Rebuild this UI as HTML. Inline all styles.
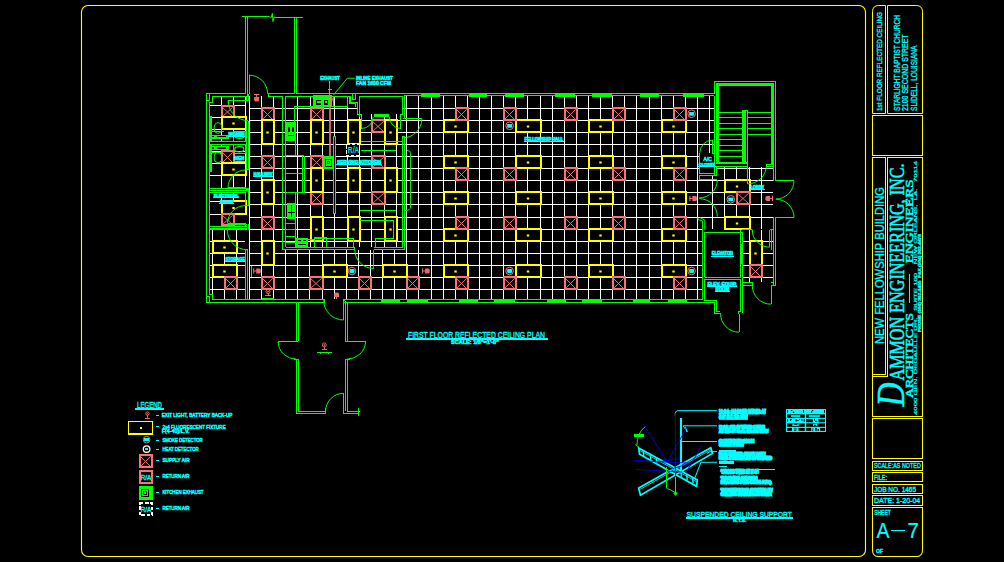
<!DOCTYPE html><html><head><meta charset="utf-8"><title>First Floor Reflected Ceiling Plan</title><style>html,body{margin:0;padding:0;background:#000;overflow:hidden}svg{display:block}text{white-space:pre}</style></head><body><svg width="1004" height="562" viewBox="0 0 1004 562"><rect width="1004" height="562" fill="#000"/>
<rect x="81.5" y="5.5" width="784" height="551" rx="6.5" fill="none" stroke="#ffff00" stroke-width="1.1"/>
<path d="M872.5,113.5 V11.8 Q872.5,5.5 878.8,5.5 H885.5 V113.5 Z" fill="none" stroke="#ffff00" stroke-width="1" />
<path d="M887.5,113.5 V5.5 H916.2 Q922.5,5.5 922.5,11.8 V113.5 Z" fill="none" stroke="#ffff00" stroke-width="1" />
<rect x="872.50" y="115.50" width="50.00" height="40.00" fill="none" stroke="#ffff00" stroke-width="1"  shape-rendering="crispEdges"/>
<polyline points="885.50,157.50 872.50,157.50 872.50,416.50 922.50,416.50 922.50,157.50 887.50,157.50 887.50,376.50 872.50,376.50" fill="none" stroke="#ffff00" stroke-width="1"  shape-rendering="crispEdges"/>
<polyline points="885.50,157.50 885.50,374.50 872.50,374.50" fill="none" stroke="#ffff00" stroke-width="1"  shape-rendering="crispEdges"/>
<rect x="872.50" y="418.50" width="50.00" height="40.00" fill="none" stroke="#ffff00" stroke-width="1"  shape-rendering="crispEdges"/>
<rect x="872.50" y="461.50" width="50.00" height="9.00" fill="none" stroke="#ffff00" stroke-width="1"  shape-rendering="crispEdges"/>
<rect x="872.50" y="472.50" width="50.00" height="9.00" fill="none" stroke="#ffff00" stroke-width="1"  shape-rendering="crispEdges"/>
<rect x="872.50" y="484.50" width="50.00" height="9.00" fill="none" stroke="#ffff00" stroke-width="1"  shape-rendering="crispEdges"/>
<rect x="872.50" y="495.50" width="50.00" height="10.00" fill="none" stroke="#ffff00" stroke-width="1"  shape-rendering="crispEdges"/>
<path d="M872.5,507.5 H922.5 V550.2 Q922.5,556.5 916.2,556.5 H878.8 Q872.5,556.5 872.5,550.2 Z" fill="none" stroke="#ffff00" stroke-width="1.05" />
<text transform="translate(881.60,111.00) rotate(-90)" font-family="Liberation Sans, sans-serif" font-size="6.8" font-weight="normal" fill="#00ffff" stroke="#00ffff" stroke-width="0.3" textLength="99.00" lengthAdjust="spacingAndGlyphs" >1st FLOOR REFLECTED CEILING</text>
<text transform="translate(900.00,111.00) rotate(-90)" font-family="Liberation Sans, sans-serif" font-size="9.2" font-weight="normal" fill="#00ffff" stroke="#00ffff" stroke-width="0.3" textLength="96.00" lengthAdjust="spacingAndGlyphs" >STARLIGHT BAPTIST CHURCH</text>
<text transform="translate(907.90,111.00) rotate(-90)" font-family="Liberation Sans, sans-serif" font-size="8.2" font-weight="normal" fill="#00ffff" stroke="#00ffff" stroke-width="0.3" textLength="76.60" lengthAdjust="spacingAndGlyphs" >2100 SECOND STREET</text>
<text transform="translate(916.80,111.00) rotate(-90)" font-family="Liberation Sans, sans-serif" font-size="8.2" font-weight="normal" fill="#00ffff" stroke="#00ffff" stroke-width="0.3" textLength="65.50" lengthAdjust="spacingAndGlyphs" >SLIDELL, LOUISIANA</text>
<text transform="translate(883.50,344.00) rotate(-90)" font-family="Liberation Sans, sans-serif" font-size="13.4" font-weight="normal" fill="#00ffff" stroke="#00ffff" stroke-width="0.3" textLength="157.00" lengthAdjust="spacingAndGlyphs" >NEW FELLOWSHIP BUILDING</text>
<text transform="translate(904.20,406.50) rotate(-90)" font-family="Liberation Serif, sans-serif" font-size="40" font-weight="normal" fill="#00ffff" stroke="#00ffff" stroke-width="0.5" textLength="24.00" lengthAdjust="spacingAndGlyphs" font-style="italic">D</text>
<text transform="translate(904.20,380.50) rotate(-90)" font-family="Liberation Serif, sans-serif" font-size="20" font-weight="normal" fill="#00ffff" stroke="#00ffff" stroke-width="0.55" textLength="217.00" lengthAdjust="spacingAndGlyphs" >AMMON ENGINEERING, INC.</text>
<text transform="translate(912.60,398.00) rotate(-90)" font-family="Liberation Serif, sans-serif" font-size="9.8" font-weight="normal" fill="#00ffff" stroke="#00ffff" stroke-width="0.45" textLength="85.00" lengthAdjust="spacingAndGlyphs" >ARCHITECTS</text>
<text transform="translate(912.60,263.30) rotate(-90)" font-family="Liberation Serif, sans-serif" font-size="9.8" font-weight="normal" fill="#00ffff" stroke="#00ffff" stroke-width="0.45" textLength="84.00" lengthAdjust="spacingAndGlyphs" >ENGINEERS</text>
<line x1="909.60" y1="274.00" x2="909.60" y2="303.00" stroke="#00ffff" stroke-width="1"  shape-rendering="crispEdges"/>
<text transform="translate(916.90,415.00) rotate(-90)" font-family="Liberation Sans, sans-serif" font-size="3.9" font-weight="normal" fill="#00ffff" stroke="#00ffff" stroke-width="0.2" textLength="254.00" lengthAdjust="spacingAndGlyphs" >4000 GEN. DEGAULLE DR.   SUITE 100    NEW ORLEANS,  LA.   70114</text>
<text transform="translate(921.40,332.00) rotate(-90)" font-family="Liberation Sans, sans-serif" font-size="4.2" font-weight="bold" fill="#00ffff" stroke="#00ffff" stroke-width="0.35" textLength="98.00" lengthAdjust="spacingAndGlyphs" >PHONE (504) 362-4455  FAX (504) 362-4478</text>
<text x="873.90" y="468.20" font-family="Liberation Sans, sans-serif" font-size="7.4" font-weight="normal" fill="#00ffff" stroke="#00ffff" stroke-width="0.35" text-anchor="start" textLength="47.00" lengthAdjust="spacingAndGlyphs" >SCALE:AS NOTED</text>
<text x="873.90" y="480.00" font-family="Liberation Sans, sans-serif" font-size="7.4" font-weight="normal" fill="#00ffff" stroke="#00ffff" stroke-width="0.35" text-anchor="start" textLength="13.20" lengthAdjust="spacingAndGlyphs" >FILE:</text>
<text x="873.90" y="491.80" font-family="Liberation Sans, sans-serif" font-size="7.4" font-weight="normal" fill="#00ffff" stroke="#00ffff" stroke-width="0.35" text-anchor="start" textLength="42.20" lengthAdjust="spacingAndGlyphs" >JOB NO. 1465</text>
<text x="873.90" y="503.20" font-family="Liberation Sans, sans-serif" font-size="7.4" font-weight="normal" fill="#00ffff" stroke="#00ffff" stroke-width="0.35" text-anchor="start" textLength="46.40" lengthAdjust="spacingAndGlyphs" >DATE: 1-20-04</text>
<text x="874.20" y="514.90" font-family="Liberation Sans, sans-serif" font-size="6.4" font-weight="normal" fill="#00ffff" stroke="#00ffff" stroke-width="0.35" text-anchor="start" textLength="16.60" lengthAdjust="spacingAndGlyphs" >SHEET</text>
<text x="876.60" y="538.40" font-family="Liberation Sans, sans-serif" font-size="22.3" font-weight="normal" fill="#00ffff" stroke="#00ffff" stroke-width="0.15" text-anchor="start" textLength="13.00" lengthAdjust="spacingAndGlyphs" >A</text>
<line x1="891.00" y1="530.50" x2="904.60" y2="530.50" stroke="#00ffff" stroke-width="1"  shape-rendering="crispEdges"/>
<text x="907.60" y="538.40" font-family="Liberation Sans, sans-serif" font-size="22.3" font-weight="normal" fill="#00ffff" stroke="#00ffff" stroke-width="0.15" text-anchor="start" textLength="11.40" lengthAdjust="spacingAndGlyphs" >7</text>
<text x="876.00" y="552.70" font-family="Liberation Sans, sans-serif" font-size="5" font-weight="bold" fill="#00ffff" stroke="#00ffff" stroke-width="0.35" text-anchor="start" textLength="7.00" lengthAdjust="spacingAndGlyphs" >OF</text>
<rect x="249" y="96" width="1" height="204" fill="#ffffff" shape-rendering="crispEdges"/>
<rect x="261" y="96" width="1" height="204" fill="#ffffff" shape-rendering="crispEdges"/>
<rect x="273" y="96" width="1" height="204" fill="#ffffff" shape-rendering="crispEdges"/>
<rect x="285" y="250" width="1" height="50" fill="#ffffff" shape-rendering="crispEdges"/>
<rect x="297" y="250" width="1" height="50" fill="#ffffff" shape-rendering="crispEdges"/>
<rect x="309" y="250" width="1" height="50" fill="#ffffff" shape-rendering="crispEdges"/>
<rect x="322" y="250" width="1" height="50" fill="#ffffff" shape-rendering="crispEdges"/>
<rect x="334" y="250" width="1" height="50" fill="#ffffff" shape-rendering="crispEdges"/>
<rect x="346" y="250" width="1" height="50" fill="#ffffff" shape-rendering="crispEdges"/>
<rect x="358" y="250" width="1" height="50" fill="#ffffff" shape-rendering="crispEdges"/>
<rect x="370" y="250" width="1" height="50" fill="#ffffff" shape-rendering="crispEdges"/>
<rect x="382" y="250" width="1" height="50" fill="#ffffff" shape-rendering="crispEdges"/>
<rect x="394" y="250" width="1" height="50" fill="#ffffff" shape-rendering="crispEdges"/>
<rect x="406" y="96" width="1" height="204" fill="#ffffff" shape-rendering="crispEdges"/>
<rect x="418" y="96" width="1" height="204" fill="#ffffff" shape-rendering="crispEdges"/>
<rect x="431" y="96" width="1" height="204" fill="#ffffff" shape-rendering="crispEdges"/>
<rect x="443" y="96" width="1" height="204" fill="#ffffff" shape-rendering="crispEdges"/>
<rect x="455" y="96" width="1" height="204" fill="#ffffff" shape-rendering="crispEdges"/>
<rect x="467" y="96" width="1" height="204" fill="#ffffff" shape-rendering="crispEdges"/>
<rect x="479" y="96" width="1" height="204" fill="#ffffff" shape-rendering="crispEdges"/>
<rect x="491" y="96" width="1" height="204" fill="#ffffff" shape-rendering="crispEdges"/>
<rect x="503" y="96" width="1" height="204" fill="#ffffff" shape-rendering="crispEdges"/>
<rect x="515" y="96" width="1" height="204" fill="#ffffff" shape-rendering="crispEdges"/>
<rect x="527" y="96" width="1" height="204" fill="#ffffff" shape-rendering="crispEdges"/>
<rect x="540" y="96" width="1" height="204" fill="#ffffff" shape-rendering="crispEdges"/>
<rect x="552" y="96" width="1" height="204" fill="#ffffff" shape-rendering="crispEdges"/>
<rect x="564" y="96" width="1" height="204" fill="#ffffff" shape-rendering="crispEdges"/>
<rect x="576" y="96" width="1" height="204" fill="#ffffff" shape-rendering="crispEdges"/>
<rect x="588" y="96" width="1" height="204" fill="#ffffff" shape-rendering="crispEdges"/>
<rect x="600" y="96" width="1" height="204" fill="#ffffff" shape-rendering="crispEdges"/>
<rect x="612" y="96" width="1" height="204" fill="#ffffff" shape-rendering="crispEdges"/>
<rect x="624" y="96" width="1" height="204" fill="#ffffff" shape-rendering="crispEdges"/>
<rect x="636" y="96" width="1" height="204" fill="#ffffff" shape-rendering="crispEdges"/>
<rect x="649" y="96" width="1" height="204" fill="#ffffff" shape-rendering="crispEdges"/>
<rect x="661" y="96" width="1" height="204" fill="#ffffff" shape-rendering="crispEdges"/>
<rect x="673" y="96" width="1" height="204" fill="#ffffff" shape-rendering="crispEdges"/>
<rect x="685" y="96" width="1" height="204" fill="#ffffff" shape-rendering="crispEdges"/>
<rect x="697" y="96" width="1" height="204" fill="#ffffff" shape-rendering="crispEdges"/>
<rect x="709" y="96" width="1" height="56" fill="#ffffff" shape-rendering="crispEdges"/>
<rect x="297" y="96" width="1" height="151" fill="#ffffff" shape-rendering="crispEdges"/>
<rect x="310" y="96" width="1" height="151" fill="#ffffff" shape-rendering="crispEdges"/>
<rect x="322" y="96" width="1" height="151" fill="#ffffff" shape-rendering="crispEdges"/>
<rect x="334" y="96" width="1" height="151" fill="#ffffff" shape-rendering="crispEdges"/>
<rect x="347" y="96" width="1" height="151" fill="#ffffff" shape-rendering="crispEdges"/>
<rect x="359" y="96" width="1" height="151" fill="#ffffff" shape-rendering="crispEdges"/>
<rect x="371" y="96" width="1" height="151" fill="#ffffff" shape-rendering="crispEdges"/>
<rect x="384" y="96" width="1" height="151" fill="#ffffff" shape-rendering="crispEdges"/>
<rect x="396" y="96" width="1" height="151" fill="#ffffff" shape-rendering="crispEdges"/>
<rect x="249" y="108" width="465" height="1" fill="#ffffff" shape-rendering="crispEdges"/>
<rect x="249" y="120" width="465" height="1" fill="#ffffff" shape-rendering="crispEdges"/>
<rect x="249" y="132" width="465" height="1" fill="#ffffff" shape-rendering="crispEdges"/>
<rect x="249" y="144" width="465" height="1" fill="#ffffff" shape-rendering="crispEdges"/>
<rect x="249" y="156" width="451" height="1" fill="#ffffff" shape-rendering="crispEdges"/>
<rect x="249" y="168" width="451" height="1" fill="#ffffff" shape-rendering="crispEdges"/>
<rect x="249" y="180" width="451" height="1" fill="#ffffff" shape-rendering="crispEdges"/>
<rect x="249" y="192" width="451" height="1" fill="#ffffff" shape-rendering="crispEdges"/>
<rect x="249" y="204" width="451" height="1" fill="#ffffff" shape-rendering="crispEdges"/>
<rect x="249" y="217" width="453" height="1" fill="#ffffff" shape-rendering="crispEdges"/>
<rect x="249" y="229" width="453" height="1" fill="#ffffff" shape-rendering="crispEdges"/>
<rect x="249" y="241" width="453" height="1" fill="#ffffff" shape-rendering="crispEdges"/>
<rect x="249" y="253" width="453" height="1" fill="#ffffff" shape-rendering="crispEdges"/>
<rect x="249" y="265" width="453" height="1" fill="#ffffff" shape-rendering="crispEdges"/>
<rect x="249" y="277" width="453" height="1" fill="#ffffff" shape-rendering="crispEdges"/>
<rect x="249" y="289" width="453" height="1" fill="#ffffff" shape-rendering="crispEdges"/>
<rect x="221" y="96" width="1" height="45" fill="#ffffff" shape-rendering="crispEdges"/>
<rect x="233" y="96" width="1" height="45" fill="#ffffff" shape-rendering="crispEdges"/>
<rect x="245" y="96" width="1" height="45" fill="#ffffff" shape-rendering="crispEdges"/>
<rect x="210" y="105" width="36" height="1" fill="#ffffff" shape-rendering="crispEdges"/>
<rect x="210" y="117" width="36" height="1" fill="#ffffff" shape-rendering="crispEdges"/>
<rect x="210" y="129" width="36" height="1" fill="#ffffff" shape-rendering="crispEdges"/>
<rect x="221" y="144" width="1" height="44" fill="#ffffff" shape-rendering="crispEdges"/>
<rect x="233" y="144" width="1" height="44" fill="#ffffff" shape-rendering="crispEdges"/>
<rect x="245" y="144" width="1" height="44" fill="#ffffff" shape-rendering="crispEdges"/>
<rect x="210" y="151" width="36" height="1" fill="#ffffff" shape-rendering="crispEdges"/>
<rect x="210" y="163" width="36" height="1" fill="#ffffff" shape-rendering="crispEdges"/>
<rect x="210" y="175" width="36" height="1" fill="#ffffff" shape-rendering="crispEdges"/>
<rect x="221" y="193" width="1" height="33" fill="#ffffff" shape-rendering="crispEdges"/>
<rect x="233" y="193" width="1" height="33" fill="#ffffff" shape-rendering="crispEdges"/>
<rect x="210" y="201" width="36" height="1" fill="#ffffff" shape-rendering="crispEdges"/>
<rect x="210" y="214" width="36" height="1" fill="#ffffff" shape-rendering="crispEdges"/>
<rect x="212" y="230" width="1" height="69" fill="#ffffff" shape-rendering="crispEdges"/>
<rect x="224" y="230" width="1" height="69" fill="#ffffff" shape-rendering="crispEdges"/>
<rect x="236" y="230" width="1" height="69" fill="#ffffff" shape-rendering="crispEdges"/>
<rect x="210" y="241" width="35" height="1" fill="#ffffff" shape-rendering="crispEdges"/>
<rect x="210" y="253" width="35" height="1" fill="#ffffff" shape-rendering="crispEdges"/>
<rect x="210" y="265" width="35" height="1" fill="#ffffff" shape-rendering="crispEdges"/>
<rect x="210" y="277" width="35" height="1" fill="#ffffff" shape-rendering="crispEdges"/>
<rect x="210" y="289" width="35" height="1" fill="#ffffff" shape-rendering="crispEdges"/>
<rect x="712" y="175" width="1" height="54" fill="#ffffff" shape-rendering="crispEdges"/>
<rect x="724" y="167" width="1" height="62" fill="#ffffff" shape-rendering="crispEdges"/>
<rect x="736" y="167" width="1" height="62" fill="#ffffff" shape-rendering="crispEdges"/>
<rect x="749" y="167" width="1" height="62" fill="#ffffff" shape-rendering="crispEdges"/>
<rect x="761" y="167" width="1" height="62" fill="#ffffff" shape-rendering="crispEdges"/>
<rect x="716" y="168" width="57" height="1" fill="#ffffff" shape-rendering="crispEdges"/>
<rect x="700" y="180" width="73" height="1" fill="#ffffff" shape-rendering="crispEdges"/>
<rect x="700" y="192" width="73" height="1" fill="#ffffff" shape-rendering="crispEdges"/>
<rect x="700" y="204" width="73" height="1" fill="#ffffff" shape-rendering="crispEdges"/>
<rect x="700" y="217" width="73" height="1" fill="#ffffff" shape-rendering="crispEdges"/>
<rect x="749" y="230" width="1" height="52" fill="#ffffff" shape-rendering="crispEdges"/>
<rect x="761" y="230" width="1" height="52" fill="#ffffff" shape-rendering="crispEdges"/>
<rect x="742" y="241" width="31" height="1" fill="#ffffff" shape-rendering="crispEdges"/>
<rect x="742" y="253" width="31" height="1" fill="#ffffff" shape-rendering="crispEdges"/>
<rect x="742" y="265" width="31" height="1" fill="#ffffff" shape-rendering="crispEdges"/>
<rect x="742" y="277" width="31" height="1" fill="#ffffff" shape-rendering="crispEdges"/>
<rect x="443" y="119" width="26" height="14" fill="#ffff00" shape-rendering="crispEdges"/>
<rect x="445" y="121" width="22" height="10" fill="#000" shape-rendering="crispEdges"/>
<rect x="454.30" y="125.50" width="2.4" height="2.0" fill="#ffff00"/>
<rect x="515" y="119" width="27" height="14" fill="#ffff00" shape-rendering="crispEdges"/>
<rect x="517" y="121" width="23" height="10" fill="#000" shape-rendering="crispEdges"/>
<rect x="526.80" y="125.50" width="2.4" height="2.0" fill="#ffff00"/>
<rect x="588" y="119" width="26" height="14" fill="#ffff00" shape-rendering="crispEdges"/>
<rect x="590" y="121" width="22" height="10" fill="#000" shape-rendering="crispEdges"/>
<rect x="599.30" y="125.50" width="2.4" height="2.0" fill="#ffff00"/>
<rect x="661" y="119" width="26" height="14" fill="#ffff00" shape-rendering="crispEdges"/>
<rect x="663" y="121" width="22" height="10" fill="#000" shape-rendering="crispEdges"/>
<rect x="672.30" y="125.50" width="2.4" height="2.0" fill="#ffff00"/>
<rect x="443" y="155" width="26" height="14" fill="#ffff00" shape-rendering="crispEdges"/>
<rect x="445" y="157" width="22" height="10" fill="#000" shape-rendering="crispEdges"/>
<rect x="454.30" y="161.50" width="2.4" height="2.0" fill="#ffff00"/>
<rect x="515" y="155" width="27" height="14" fill="#ffff00" shape-rendering="crispEdges"/>
<rect x="517" y="157" width="23" height="10" fill="#000" shape-rendering="crispEdges"/>
<rect x="526.80" y="161.50" width="2.4" height="2.0" fill="#ffff00"/>
<rect x="588" y="155" width="26" height="14" fill="#ffff00" shape-rendering="crispEdges"/>
<rect x="590" y="157" width="22" height="10" fill="#000" shape-rendering="crispEdges"/>
<rect x="599.30" y="161.50" width="2.4" height="2.0" fill="#ffff00"/>
<rect x="661" y="155" width="26" height="14" fill="#ffff00" shape-rendering="crispEdges"/>
<rect x="663" y="157" width="22" height="10" fill="#000" shape-rendering="crispEdges"/>
<rect x="672.30" y="161.50" width="2.4" height="2.0" fill="#ffff00"/>
<rect x="443" y="191" width="26" height="14" fill="#ffff00" shape-rendering="crispEdges"/>
<rect x="445" y="193" width="22" height="10" fill="#000" shape-rendering="crispEdges"/>
<rect x="454.30" y="197.50" width="2.4" height="2.0" fill="#ffff00"/>
<rect x="515" y="191" width="27" height="14" fill="#ffff00" shape-rendering="crispEdges"/>
<rect x="517" y="193" width="23" height="10" fill="#000" shape-rendering="crispEdges"/>
<rect x="526.80" y="197.50" width="2.4" height="2.0" fill="#ffff00"/>
<rect x="588" y="191" width="26" height="14" fill="#ffff00" shape-rendering="crispEdges"/>
<rect x="590" y="193" width="22" height="10" fill="#000" shape-rendering="crispEdges"/>
<rect x="599.30" y="197.50" width="2.4" height="2.0" fill="#ffff00"/>
<rect x="661" y="191" width="26" height="14" fill="#ffff00" shape-rendering="crispEdges"/>
<rect x="663" y="193" width="22" height="10" fill="#000" shape-rendering="crispEdges"/>
<rect x="672.30" y="197.50" width="2.4" height="2.0" fill="#ffff00"/>
<rect x="443" y="228" width="26" height="14" fill="#ffff00" shape-rendering="crispEdges"/>
<rect x="445" y="230" width="22" height="10" fill="#000" shape-rendering="crispEdges"/>
<rect x="454.30" y="234.50" width="2.4" height="2.0" fill="#ffff00"/>
<rect x="515" y="228" width="27" height="14" fill="#ffff00" shape-rendering="crispEdges"/>
<rect x="517" y="230" width="23" height="10" fill="#000" shape-rendering="crispEdges"/>
<rect x="526.80" y="234.50" width="2.4" height="2.0" fill="#ffff00"/>
<rect x="588" y="228" width="26" height="14" fill="#ffff00" shape-rendering="crispEdges"/>
<rect x="590" y="230" width="22" height="10" fill="#000" shape-rendering="crispEdges"/>
<rect x="599.30" y="234.50" width="2.4" height="2.0" fill="#ffff00"/>
<rect x="661" y="228" width="26" height="14" fill="#ffff00" shape-rendering="crispEdges"/>
<rect x="663" y="230" width="22" height="10" fill="#000" shape-rendering="crispEdges"/>
<rect x="672.30" y="234.50" width="2.4" height="2.0" fill="#ffff00"/>
<rect x="443" y="264" width="26" height="14" fill="#ffff00" shape-rendering="crispEdges"/>
<rect x="445" y="266" width="22" height="10" fill="#000" shape-rendering="crispEdges"/>
<rect x="454.30" y="270.50" width="2.4" height="2.0" fill="#ffff00"/>
<rect x="515" y="264" width="27" height="14" fill="#ffff00" shape-rendering="crispEdges"/>
<rect x="517" y="266" width="23" height="10" fill="#000" shape-rendering="crispEdges"/>
<rect x="526.80" y="270.50" width="2.4" height="2.0" fill="#ffff00"/>
<rect x="588" y="264" width="26" height="14" fill="#ffff00" shape-rendering="crispEdges"/>
<rect x="590" y="266" width="22" height="10" fill="#000" shape-rendering="crispEdges"/>
<rect x="599.30" y="270.50" width="2.4" height="2.0" fill="#ffff00"/>
<rect x="661" y="264" width="26" height="14" fill="#ffff00" shape-rendering="crispEdges"/>
<rect x="663" y="266" width="22" height="10" fill="#000" shape-rendering="crispEdges"/>
<rect x="672.30" y="270.50" width="2.4" height="2.0" fill="#ffff00"/>
<rect x="455" y="107" width="14" height="14" fill="#f47373" shape-rendering="crispEdges"/>
<rect x="457" y="109" width="10" height="10" fill="#000" shape-rendering="crispEdges"/>
<line x1="456.30" y1="109.30" x2="466.70" y2="119.70" stroke="#f47373" stroke-width="0.95" />
<line x1="456.30" y1="119.70" x2="466.70" y2="109.30" stroke="#f47373" stroke-width="0.95" />
<rect x="503" y="107" width="14" height="14" fill="#f47373" shape-rendering="crispEdges"/>
<rect x="505" y="109" width="10" height="10" fill="#000" shape-rendering="crispEdges"/>
<line x1="504.30" y1="109.30" x2="514.70" y2="119.70" stroke="#f47373" stroke-width="0.95" />
<line x1="504.30" y1="119.70" x2="514.70" y2="109.30" stroke="#f47373" stroke-width="0.95" />
<rect x="564" y="107" width="14" height="14" fill="#f47373" shape-rendering="crispEdges"/>
<rect x="566" y="109" width="10" height="10" fill="#000" shape-rendering="crispEdges"/>
<line x1="565.30" y1="109.30" x2="575.70" y2="119.70" stroke="#f47373" stroke-width="0.95" />
<line x1="565.30" y1="119.70" x2="575.70" y2="109.30" stroke="#f47373" stroke-width="0.95" />
<rect x="612" y="107" width="14" height="14" fill="#f47373" shape-rendering="crispEdges"/>
<rect x="614" y="109" width="10" height="10" fill="#000" shape-rendering="crispEdges"/>
<line x1="613.30" y1="109.30" x2="623.70" y2="119.70" stroke="#f47373" stroke-width="0.95" />
<line x1="613.30" y1="119.70" x2="623.70" y2="109.30" stroke="#f47373" stroke-width="0.95" />
<rect x="673" y="107" width="14" height="14" fill="#f47373" shape-rendering="crispEdges"/>
<rect x="675" y="109" width="10" height="10" fill="#000" shape-rendering="crispEdges"/>
<line x1="674.30" y1="109.30" x2="684.70" y2="119.70" stroke="#f47373" stroke-width="0.95" />
<line x1="674.30" y1="119.70" x2="684.70" y2="109.30" stroke="#f47373" stroke-width="0.95" />
<rect x="455" y="167" width="14" height="14" fill="#f47373" shape-rendering="crispEdges"/>
<rect x="457" y="169" width="10" height="10" fill="#000" shape-rendering="crispEdges"/>
<line x1="456.30" y1="169.30" x2="466.70" y2="179.70" stroke="#f47373" stroke-width="0.95" />
<line x1="456.30" y1="179.70" x2="466.70" y2="169.30" stroke="#f47373" stroke-width="0.95" />
<rect x="503" y="167" width="14" height="14" fill="#f47373" shape-rendering="crispEdges"/>
<rect x="505" y="169" width="10" height="10" fill="#000" shape-rendering="crispEdges"/>
<line x1="504.30" y1="169.30" x2="514.70" y2="179.70" stroke="#f47373" stroke-width="0.95" />
<line x1="504.30" y1="179.70" x2="514.70" y2="169.30" stroke="#f47373" stroke-width="0.95" />
<rect x="564" y="167" width="14" height="14" fill="#f47373" shape-rendering="crispEdges"/>
<rect x="566" y="169" width="10" height="10" fill="#000" shape-rendering="crispEdges"/>
<line x1="565.30" y1="169.30" x2="575.70" y2="179.70" stroke="#f47373" stroke-width="0.95" />
<line x1="565.30" y1="179.70" x2="575.70" y2="169.30" stroke="#f47373" stroke-width="0.95" />
<rect x="612" y="167" width="14" height="14" fill="#f47373" shape-rendering="crispEdges"/>
<rect x="614" y="169" width="10" height="10" fill="#000" shape-rendering="crispEdges"/>
<line x1="613.30" y1="169.30" x2="623.70" y2="179.70" stroke="#f47373" stroke-width="0.95" />
<line x1="613.30" y1="179.70" x2="623.70" y2="169.30" stroke="#f47373" stroke-width="0.95" />
<rect x="673" y="167" width="14" height="14" fill="#f47373" shape-rendering="crispEdges"/>
<rect x="675" y="169" width="10" height="10" fill="#000" shape-rendering="crispEdges"/>
<line x1="674.30" y1="169.30" x2="684.70" y2="179.70" stroke="#f47373" stroke-width="0.95" />
<line x1="674.30" y1="179.70" x2="684.70" y2="169.30" stroke="#f47373" stroke-width="0.95" />
<rect x="455" y="216" width="14" height="14" fill="#f47373" shape-rendering="crispEdges"/>
<rect x="457" y="218" width="10" height="10" fill="#000" shape-rendering="crispEdges"/>
<line x1="456.30" y1="218.30" x2="466.70" y2="228.70" stroke="#f47373" stroke-width="0.95" />
<line x1="456.30" y1="228.70" x2="466.70" y2="218.30" stroke="#f47373" stroke-width="0.95" />
<rect x="503" y="216" width="14" height="14" fill="#f47373" shape-rendering="crispEdges"/>
<rect x="505" y="218" width="10" height="10" fill="#000" shape-rendering="crispEdges"/>
<line x1="504.30" y1="218.30" x2="514.70" y2="228.70" stroke="#f47373" stroke-width="0.95" />
<line x1="504.30" y1="228.70" x2="514.70" y2="218.30" stroke="#f47373" stroke-width="0.95" />
<rect x="564" y="216" width="14" height="14" fill="#f47373" shape-rendering="crispEdges"/>
<rect x="566" y="218" width="10" height="10" fill="#000" shape-rendering="crispEdges"/>
<line x1="565.30" y1="218.30" x2="575.70" y2="228.70" stroke="#f47373" stroke-width="0.95" />
<line x1="565.30" y1="228.70" x2="575.70" y2="218.30" stroke="#f47373" stroke-width="0.95" />
<rect x="612" y="216" width="14" height="14" fill="#f47373" shape-rendering="crispEdges"/>
<rect x="614" y="218" width="10" height="10" fill="#000" shape-rendering="crispEdges"/>
<line x1="613.30" y1="218.30" x2="623.70" y2="228.70" stroke="#f47373" stroke-width="0.95" />
<line x1="613.30" y1="228.70" x2="623.70" y2="218.30" stroke="#f47373" stroke-width="0.95" />
<rect x="673" y="216" width="14" height="14" fill="#f47373" shape-rendering="crispEdges"/>
<rect x="675" y="218" width="10" height="10" fill="#000" shape-rendering="crispEdges"/>
<line x1="674.30" y1="218.30" x2="684.70" y2="228.70" stroke="#f47373" stroke-width="0.95" />
<line x1="674.30" y1="228.70" x2="684.70" y2="218.30" stroke="#f47373" stroke-width="0.95" />
<rect x="455" y="276" width="14" height="14" fill="#f47373" shape-rendering="crispEdges"/>
<rect x="457" y="278" width="10" height="10" fill="#000" shape-rendering="crispEdges"/>
<line x1="456.30" y1="278.30" x2="466.70" y2="288.70" stroke="#f47373" stroke-width="0.95" />
<line x1="456.30" y1="288.70" x2="466.70" y2="278.30" stroke="#f47373" stroke-width="0.95" />
<rect x="503" y="276" width="14" height="14" fill="#f47373" shape-rendering="crispEdges"/>
<rect x="505" y="278" width="10" height="10" fill="#000" shape-rendering="crispEdges"/>
<line x1="504.30" y1="278.30" x2="514.70" y2="288.70" stroke="#f47373" stroke-width="0.95" />
<line x1="504.30" y1="288.70" x2="514.70" y2="278.30" stroke="#f47373" stroke-width="0.95" />
<rect x="564" y="276" width="14" height="14" fill="#f47373" shape-rendering="crispEdges"/>
<rect x="566" y="278" width="10" height="10" fill="#000" shape-rendering="crispEdges"/>
<line x1="565.30" y1="278.30" x2="575.70" y2="288.70" stroke="#f47373" stroke-width="0.95" />
<line x1="565.30" y1="288.70" x2="575.70" y2="278.30" stroke="#f47373" stroke-width="0.95" />
<rect x="612" y="276" width="14" height="14" fill="#f47373" shape-rendering="crispEdges"/>
<rect x="614" y="278" width="10" height="10" fill="#000" shape-rendering="crispEdges"/>
<line x1="613.30" y1="278.30" x2="623.70" y2="288.70" stroke="#f47373" stroke-width="0.95" />
<line x1="613.30" y1="288.70" x2="623.70" y2="278.30" stroke="#f47373" stroke-width="0.95" />
<rect x="673" y="276" width="14" height="14" fill="#f47373" shape-rendering="crispEdges"/>
<rect x="675" y="278" width="10" height="10" fill="#000" shape-rendering="crispEdges"/>
<line x1="674.30" y1="278.30" x2="684.70" y2="288.70" stroke="#f47373" stroke-width="0.95" />
<line x1="674.30" y1="288.70" x2="684.70" y2="278.30" stroke="#f47373" stroke-width="0.95" />
<rect x="261" y="276" width="14" height="14" fill="#f47373" shape-rendering="crispEdges"/>
<rect x="263" y="278" width="10" height="10" fill="#000" shape-rendering="crispEdges"/>
<line x1="262.30" y1="278.30" x2="272.70" y2="288.70" stroke="#f47373" stroke-width="0.95" />
<line x1="262.30" y1="288.70" x2="272.70" y2="278.30" stroke="#f47373" stroke-width="0.95" />
<rect x="309" y="276" width="15" height="14" fill="#f47373" shape-rendering="crispEdges"/>
<rect x="311" y="278" width="11" height="10" fill="#000" shape-rendering="crispEdges"/>
<line x1="310.30" y1="278.30" x2="321.70" y2="288.70" stroke="#f47373" stroke-width="0.95" />
<line x1="310.30" y1="288.70" x2="321.70" y2="278.30" stroke="#f47373" stroke-width="0.95" />
<rect x="358" y="276" width="14" height="14" fill="#f47373" shape-rendering="crispEdges"/>
<rect x="360" y="278" width="10" height="10" fill="#000" shape-rendering="crispEdges"/>
<line x1="359.30" y1="278.30" x2="369.70" y2="288.70" stroke="#f47373" stroke-width="0.95" />
<line x1="359.30" y1="288.70" x2="369.70" y2="278.30" stroke="#f47373" stroke-width="0.95" />
<rect x="406" y="276" width="14" height="14" fill="#f47373" shape-rendering="crispEdges"/>
<rect x="408" y="278" width="10" height="10" fill="#000" shape-rendering="crispEdges"/>
<line x1="407.30" y1="278.30" x2="417.70" y2="288.70" stroke="#f47373" stroke-width="0.95" />
<line x1="407.30" y1="288.70" x2="417.70" y2="278.30" stroke="#f47373" stroke-width="0.95" />
<rect x="322" y="264" width="26" height="14" fill="#ffff00" shape-rendering="crispEdges"/>
<rect x="324" y="266" width="22" height="10" fill="#000" shape-rendering="crispEdges"/>
<rect x="333.30" y="270.50" width="2.4" height="2.0" fill="#ffff00"/>
<rect x="382" y="264" width="26" height="14" fill="#ffff00" shape-rendering="crispEdges"/>
<rect x="384" y="266" width="22" height="10" fill="#000" shape-rendering="crispEdges"/>
<rect x="393.30" y="270.50" width="2.4" height="2.0" fill="#ffff00"/>
<rect x="261" y="107" width="14" height="14" fill="#f47373" shape-rendering="crispEdges"/>
<rect x="263" y="109" width="10" height="10" fill="#000" shape-rendering="crispEdges"/>
<line x1="262.30" y1="109.30" x2="272.70" y2="119.70" stroke="#f47373" stroke-width="0.95" />
<line x1="262.30" y1="119.70" x2="272.70" y2="109.30" stroke="#f47373" stroke-width="0.95" />
<rect x="261" y="155" width="14" height="14" fill="#f47373" shape-rendering="crispEdges"/>
<rect x="263" y="157" width="10" height="10" fill="#000" shape-rendering="crispEdges"/>
<line x1="262.30" y1="157.30" x2="272.70" y2="167.70" stroke="#f47373" stroke-width="0.95" />
<line x1="262.30" y1="167.70" x2="272.70" y2="157.30" stroke="#f47373" stroke-width="0.95" />
<rect x="261" y="216" width="14" height="14" fill="#f47373" shape-rendering="crispEdges"/>
<rect x="263" y="218" width="10" height="10" fill="#000" shape-rendering="crispEdges"/>
<line x1="262.30" y1="218.30" x2="272.70" y2="228.70" stroke="#f47373" stroke-width="0.95" />
<line x1="262.30" y1="228.70" x2="272.70" y2="218.30" stroke="#f47373" stroke-width="0.95" />
<rect x="261" y="119" width="14" height="26" fill="#ffff00" shape-rendering="crispEdges"/>
<rect x="263" y="121" width="10" height="22" fill="#000" shape-rendering="crispEdges"/>
<rect x="266.30" y="131.50" width="2.4" height="2.0" fill="#ffff00"/>
<rect x="261" y="179" width="14" height="26" fill="#ffff00" shape-rendering="crispEdges"/>
<rect x="263" y="181" width="10" height="22" fill="#000" shape-rendering="crispEdges"/>
<rect x="266.30" y="191.50" width="2.4" height="2.0" fill="#ffff00"/>
<rect x="261" y="240" width="14" height="26" fill="#ffff00" shape-rendering="crispEdges"/>
<rect x="263" y="242" width="10" height="22" fill="#000" shape-rendering="crispEdges"/>
<rect x="266.30" y="252.50" width="2.4" height="2.0" fill="#ffff00"/>
<rect x="310" y="107" width="14" height="14" fill="#f47373" shape-rendering="crispEdges"/>
<rect x="312" y="109" width="10" height="10" fill="#000" shape-rendering="crispEdges"/>
<line x1="311.30" y1="109.30" x2="321.70" y2="119.70" stroke="#f47373" stroke-width="0.95" />
<line x1="311.30" y1="119.70" x2="321.70" y2="109.30" stroke="#f47373" stroke-width="0.95" />
<rect x="371" y="119" width="15" height="14" fill="#f47373" shape-rendering="crispEdges"/>
<rect x="373" y="121" width="11" height="10" fill="#000" shape-rendering="crispEdges"/>
<line x1="372.30" y1="121.30" x2="383.70" y2="131.70" stroke="#f47373" stroke-width="0.95" />
<line x1="372.30" y1="131.70" x2="383.70" y2="121.30" stroke="#f47373" stroke-width="0.95" />
<rect x="310" y="155" width="14" height="14" fill="#f47373" shape-rendering="crispEdges"/>
<rect x="312" y="157" width="10" height="10" fill="#000" shape-rendering="crispEdges"/>
<line x1="311.30" y1="157.30" x2="321.70" y2="167.70" stroke="#f47373" stroke-width="0.95" />
<line x1="311.30" y1="167.70" x2="321.70" y2="157.30" stroke="#f47373" stroke-width="0.95" />
<rect x="371" y="155" width="15" height="14" fill="#f47373" shape-rendering="crispEdges"/>
<rect x="373" y="157" width="11" height="10" fill="#000" shape-rendering="crispEdges"/>
<line x1="372.30" y1="157.30" x2="383.70" y2="167.70" stroke="#f47373" stroke-width="0.95" />
<line x1="372.30" y1="167.70" x2="383.70" y2="157.30" stroke="#f47373" stroke-width="0.95" />
<rect x="310" y="191" width="14" height="14" fill="#f47373" shape-rendering="crispEdges"/>
<rect x="312" y="193" width="10" height="10" fill="#000" shape-rendering="crispEdges"/>
<line x1="311.30" y1="193.30" x2="321.70" y2="203.70" stroke="#f47373" stroke-width="0.95" />
<line x1="311.30" y1="203.70" x2="321.70" y2="193.30" stroke="#f47373" stroke-width="0.95" />
<rect x="371" y="191" width="15" height="14" fill="#f47373" shape-rendering="crispEdges"/>
<rect x="373" y="193" width="11" height="10" fill="#000" shape-rendering="crispEdges"/>
<line x1="372.30" y1="193.30" x2="383.70" y2="203.70" stroke="#f47373" stroke-width="0.95" />
<line x1="372.30" y1="203.70" x2="383.70" y2="193.30" stroke="#f47373" stroke-width="0.95" />
<rect x="310" y="119" width="14" height="26" fill="#ffff00" shape-rendering="crispEdges"/>
<rect x="312" y="121" width="10" height="22" fill="#000" shape-rendering="crispEdges"/>
<rect x="315.30" y="131.50" width="2.4" height="2.0" fill="#ffff00"/>
<rect x="310" y="167" width="14" height="26" fill="#ffff00" shape-rendering="crispEdges"/>
<rect x="312" y="169" width="10" height="22" fill="#000" shape-rendering="crispEdges"/>
<rect x="315.30" y="179.50" width="2.4" height="2.0" fill="#ffff00"/>
<rect x="310" y="216" width="14" height="26" fill="#ffff00" shape-rendering="crispEdges"/>
<rect x="312" y="218" width="10" height="22" fill="#000" shape-rendering="crispEdges"/>
<rect x="315.30" y="228.50" width="2.4" height="2.0" fill="#ffff00"/>
<rect x="347" y="119" width="14" height="26" fill="#ffff00" shape-rendering="crispEdges"/>
<rect x="349" y="121" width="10" height="22" fill="#000" shape-rendering="crispEdges"/>
<rect x="352.30" y="131.50" width="2.4" height="2.0" fill="#ffff00"/>
<rect x="347" y="167" width="14" height="26" fill="#ffff00" shape-rendering="crispEdges"/>
<rect x="349" y="169" width="10" height="22" fill="#000" shape-rendering="crispEdges"/>
<rect x="352.30" y="179.50" width="2.4" height="2.0" fill="#ffff00"/>
<rect x="347" y="216" width="14" height="26" fill="#ffff00" shape-rendering="crispEdges"/>
<rect x="349" y="218" width="10" height="22" fill="#000" shape-rendering="crispEdges"/>
<rect x="352.30" y="228.50" width="2.4" height="2.0" fill="#ffff00"/>
<rect x="384" y="119" width="14" height="26" fill="#ffff00" shape-rendering="crispEdges"/>
<rect x="386" y="121" width="10" height="22" fill="#000" shape-rendering="crispEdges"/>
<rect x="389.30" y="131.50" width="2.4" height="2.0" fill="#ffff00"/>
<rect x="384" y="167" width="14" height="26" fill="#ffff00" shape-rendering="crispEdges"/>
<rect x="386" y="169" width="10" height="22" fill="#000" shape-rendering="crispEdges"/>
<rect x="389.30" y="179.50" width="2.4" height="2.0" fill="#ffff00"/>
<rect x="384" y="216" width="14" height="26" fill="#ffff00" shape-rendering="crispEdges"/>
<rect x="386" y="218" width="10" height="22" fill="#000" shape-rendering="crispEdges"/>
<rect x="389.30" y="228.50" width="2.4" height="2.0" fill="#ffff00"/>
<rect x="322.95" y="156.38" width="12.65" height="12.77" fill="#00ff00" stroke="#00ff00" stroke-width="0"  shape-rendering="crispEdges"/>
<rect x="325.07" y="159.56" width="6.20" height="6.60" fill="none" stroke="#000" stroke-width="1.0"  shape-rendering="crispEdges"/>
<rect x="327.07" y="161.56" width="2.20" height="2.40" fill="none" stroke="#000" stroke-width="1.0"  shape-rendering="crispEdges"/>
<rect x="346.65" y="144.01" width="12.75" height="12.07" fill="#000" stroke="#ffffff" stroke-width="1.6" stroke-dasharray="3.4 1.6" shape-rendering="crispEdges"/>
<text x="353.42" y="153.45" font-family="Liberation Sans, sans-serif" font-size="9.2" font-weight="normal" fill="#00ffff" stroke="#00ffff" stroke-width="0.2" text-anchor="middle" textLength="11.20" lengthAdjust="spacingAndGlyphs" >R/A</text>
<rect x="221" y="105" width="14" height="13" fill="#f47373" shape-rendering="crispEdges"/>
<rect x="223" y="107" width="10" height="9" fill="#000" shape-rendering="crispEdges"/>
<line x1="222.30" y1="107.30" x2="232.70" y2="116.70" stroke="#f47373" stroke-width="0.95" />
<line x1="222.30" y1="116.70" x2="232.70" y2="107.30" stroke="#f47373" stroke-width="0.95" />
<rect x="221" y="116" width="26" height="14" fill="#ffff00" shape-rendering="crispEdges"/>
<rect x="223" y="118" width="22" height="10" fill="#000" shape-rendering="crispEdges"/>
<rect x="232.30" y="122.50" width="2.4" height="2.0" fill="#ffff00"/>
<rect x="221" y="150" width="14" height="14" fill="#f47373" shape-rendering="crispEdges"/>
<rect x="223" y="152" width="10" height="10" fill="#000" shape-rendering="crispEdges"/>
<line x1="222.30" y1="152.30" x2="232.70" y2="162.70" stroke="#f47373" stroke-width="0.95" />
<line x1="222.30" y1="162.70" x2="232.70" y2="152.30" stroke="#f47373" stroke-width="0.95" />
<rect x="221" y="162" width="26" height="14" fill="#ffff00" shape-rendering="crispEdges"/>
<rect x="223" y="164" width="22" height="10" fill="#000" shape-rendering="crispEdges"/>
<rect x="232.30" y="168.50" width="2.4" height="2.0" fill="#ffff00"/>
<rect x="221" y="200" width="26" height="15" fill="#ffff00" shape-rendering="crispEdges"/>
<rect x="223" y="202" width="22" height="11" fill="#000" shape-rendering="crispEdges"/>
<rect x="232.30" y="207.00" width="2.4" height="2.0" fill="#ffff00"/>
<rect x="221" y="213" width="14" height="13" fill="#f47373" shape-rendering="crispEdges"/>
<rect x="223" y="215" width="10" height="9" fill="#000" shape-rendering="crispEdges"/>
<line x1="222.30" y1="215.30" x2="232.70" y2="224.70" stroke="#f47373" stroke-width="0.95" />
<line x1="222.30" y1="224.70" x2="232.70" y2="215.30" stroke="#f47373" stroke-width="0.95" />
<rect x="212" y="240" width="26" height="14" fill="#ffff00" shape-rendering="crispEdges"/>
<rect x="214" y="242" width="22" height="10" fill="#000" shape-rendering="crispEdges"/>
<rect x="223.30" y="246.50" width="2.4" height="2.0" fill="#ffff00"/>
<rect x="212" y="264" width="26" height="14" fill="#ffff00" shape-rendering="crispEdges"/>
<rect x="214" y="266" width="22" height="10" fill="#000" shape-rendering="crispEdges"/>
<rect x="223.30" y="270.50" width="2.4" height="2.0" fill="#ffff00"/>
<rect x="224" y="276" width="14" height="14" fill="#f47373" shape-rendering="crispEdges"/>
<rect x="226" y="278" width="10" height="10" fill="#000" shape-rendering="crispEdges"/>
<line x1="225.30" y1="278.30" x2="235.70" y2="288.70" stroke="#f47373" stroke-width="0.95" />
<line x1="225.30" y1="288.70" x2="235.70" y2="278.30" stroke="#f47373" stroke-width="0.95" />
<rect x="724" y="179" width="27" height="14" fill="#ffff00" shape-rendering="crispEdges"/>
<rect x="726" y="181" width="23" height="10" fill="#000" shape-rendering="crispEdges"/>
<rect x="735.80" y="185.50" width="2.4" height="2.0" fill="#ffff00"/>
<rect x="736" y="191" width="15" height="14" fill="#f47373" shape-rendering="crispEdges"/>
<rect x="738" y="193" width="11" height="10" fill="#000" shape-rendering="crispEdges"/>
<line x1="737.30" y1="193.30" x2="748.70" y2="203.70" stroke="#f47373" stroke-width="0.95" />
<line x1="737.30" y1="203.70" x2="748.70" y2="193.30" stroke="#f47373" stroke-width="0.95" />
<rect x="724" y="216" width="27" height="14" fill="#ffff00" shape-rendering="crispEdges"/>
<rect x="726" y="218" width="23" height="10" fill="#000" shape-rendering="crispEdges"/>
<rect x="735.80" y="222.50" width="2.4" height="2.0" fill="#ffff00"/>
<rect x="749" y="240" width="14" height="26" fill="#ffff00" shape-rendering="crispEdges"/>
<rect x="751" y="242" width="10" height="22" fill="#000" shape-rendering="crispEdges"/>
<rect x="754.30" y="252.50" width="2.4" height="2.0" fill="#ffff00"/>
<rect x="749" y="264" width="14" height="14" fill="#f47373" shape-rendering="crispEdges"/>
<rect x="751" y="266" width="10" height="10" fill="#000" shape-rendering="crispEdges"/>
<line x1="750.30" y1="266.30" x2="760.70" y2="276.70" stroke="#f47373" stroke-width="0.95" />
<line x1="750.30" y1="276.70" x2="760.70" y2="266.30" stroke="#f47373" stroke-width="0.95" />
<circle cx="509.60" cy="125.80" r="3.80" fill="none" stroke="#f47373" stroke-width="1.0"/>
<rect x="507.10" y="123.90" width="5" height="3.8" rx="0.8" fill="#00ffff"/>
<circle cx="691.60" cy="113.80" r="3.80" fill="none" stroke="#f47373" stroke-width="1.0"/>
<rect x="689.10" y="111.90" width="5" height="3.8" rx="0.8" fill="#00ffff"/>
<circle cx="509.60" cy="271.00" r="3.80" fill="none" stroke="#f47373" stroke-width="1.0"/>
<rect x="507.10" y="269.10" width="5" height="3.8" rx="0.8" fill="#00ffff"/>
<circle cx="691.60" cy="271.00" r="3.80" fill="none" stroke="#f47373" stroke-width="1.0"/>
<rect x="689.10" y="269.10" width="5" height="3.8" rx="0.8" fill="#00ffff"/>
<circle cx="730.80" cy="199.30" r="3.80" fill="none" stroke="#f47373" stroke-width="1.0"/>
<rect x="728.30" y="197.40" width="5" height="3.8" rx="0.8" fill="#00ffff"/>
<circle cx="352.00" cy="271.00" r="3.80" fill="none" stroke="#f47373" stroke-width="1.0"/>
<rect x="349.50" y="269.10" width="5" height="3.8" rx="0.8" fill="#00ffff"/>
<g transform="translate(256.60,97.40) rotate(0)">
<rect x="-2.6" y="-3.4" width="5.2" height="1" fill="#f47373"/>
<rect x="-0.5" y="-3.0" width="1" height="2.8" fill="#f47373"/>
<path d="M-2.5,-0.4 H2.5 V2.6 Q2.5,4.2 0.9,4.2 H-0.9 Q-2.5,4.2 -2.5,2.6 Z" fill="#e46c6c"/>
</g>
<g transform="translate(692.80,198.50) rotate(-90)">
<rect x="-2.6" y="-3.4" width="5.2" height="1" fill="#f47373"/>
<rect x="-0.5" y="-3.0" width="1" height="2.8" fill="#f47373"/>
<path d="M-2.5,-0.4 H2.5 V2.6 Q2.5,4.2 0.9,4.2 H-0.9 Q-2.5,4.2 -2.5,2.6 Z" fill="#e46c6c"/>
</g>
<g transform="translate(769.60,198.40) rotate(90)">
<rect x="-2.6" y="-3.4" width="5.2" height="1" fill="#f47373"/>
<rect x="-0.5" y="-3.0" width="1" height="2.8" fill="#f47373"/>
<path d="M-2.5,-0.4 H2.5 V2.6 Q2.5,4.2 0.9,4.2 H-0.9 Q-2.5,4.2 -2.5,2.6 Z" fill="#e46c6c"/>
</g>
<g transform="translate(256.60,271.00) rotate(-90)">
<rect x="-2.6" y="-3.4" width="5.2" height="1" fill="#f47373"/>
<rect x="-0.5" y="-3.0" width="1" height="2.8" fill="#f47373"/>
<path d="M-2.5,-0.4 H2.5 V2.6 Q2.5,4.2 0.9,4.2 H-0.9 Q-2.5,4.2 -2.5,2.6 Z" fill="#e46c6c"/>
</g>
<g transform="translate(425.50,271.00) rotate(-90)">
<rect x="-2.6" y="-3.4" width="5.2" height="1" fill="#f47373"/>
<rect x="-0.5" y="-3.0" width="1" height="2.8" fill="#f47373"/>
<path d="M-2.5,-0.4 H2.5 V2.6 Q2.5,4.2 0.9,4.2 H-0.9 Q-2.5,4.2 -2.5,2.6 Z" fill="#e46c6c"/>
</g>
<circle cx="268.00" cy="291.60" r="2.00" fill="none" stroke="#f47373" stroke-width="0.9"/>
<rect x="267.20" y="291.00" width="1.6" height="1.4" fill="#f47373"/>
<line x1="268.00" y1="293.60" x2="268.00" y2="295.50" stroke="#f47373" stroke-width="0.9"  shape-rendering="crispEdges"/>
<line x1="265.20" y1="295.80" x2="270.80" y2="295.80" stroke="#f47373" stroke-width="0.9"  shape-rendering="crispEdges"/>
<g transform="translate(336.60,296.60) rotate(180)">
<rect x="-2.6" y="-3.4" width="5.2" height="1" fill="#f47373"/>
<rect x="-0.5" y="-3.0" width="1" height="2.8" fill="#f47373"/>
<path d="M-2.5,-0.4 H2.5 V2.6 Q2.5,4.2 0.9,4.2 H-0.9 Q-2.5,4.2 -2.5,2.6 Z" fill="#e46c6c"/>
</g>
<circle cx="324.30" cy="344.90" r="2.00" fill="none" stroke="#f47373" stroke-width="0.9"/>
<rect x="323.50" y="344.30" width="1.6" height="1.4" fill="#f47373"/>
<line x1="324.30" y1="346.90" x2="324.30" y2="348.80" stroke="#f47373" stroke-width="0.9"  shape-rendering="crispEdges"/>
<line x1="321.50" y1="349.10" x2="327.10" y2="349.10" stroke="#f47373" stroke-width="0.9"  shape-rendering="crispEdges"/>
<rect x="357.60" y="97.00" width="44.60" height="17.00" fill="#000" stroke="#000" stroke-width="0"  shape-rendering="crispEdges"/>
<rect x="349.00" y="97.00" width="8.60" height="5.00" fill="#000" stroke="#000" stroke-width="0"  shape-rendering="crispEdges"/>
<line x1="242.10" y1="16.50" x2="269.20" y2="16.50" stroke="#00ff00" stroke-width="1"  shape-rendering="crispEdges"/>
<polyline points="269.20,16.50 271.20,17.60 272.40,13.20 272.90,21.60 274.20,17.00 275.00,17.50" fill="none" stroke="#00ff00" stroke-width="1" />
<line x1="275.00" y1="17.50" x2="302.80" y2="17.50" stroke="#00ff00" stroke-width="1"  shape-rendering="crispEdges"/>
<line x1="245.30" y1="16.50" x2="245.30" y2="93.60" stroke="#00ff00" stroke-width="1"  shape-rendering="crispEdges"/>
<line x1="247.70" y1="16.50" x2="247.70" y2="96.50" stroke="#00ff00" stroke-width="1"  shape-rendering="crispEdges"/>
<line x1="294.50" y1="17.50" x2="294.50" y2="93.60" stroke="#00ff00" stroke-width="1"  shape-rendering="crispEdges"/>
<line x1="296.60" y1="17.50" x2="296.60" y2="93.60" stroke="#00ff00" stroke-width="1"  shape-rendering="crispEdges"/>
<line x1="249.20" y1="93.60" x2="249.20" y2="75.20" stroke="#00ff00" stroke-width="1"  shape-rendering="crispEdges"/>
<path d="M249.20,75.20 A18.40,18.40 0 0 1 267.60,93.60" fill="none" stroke="#00ff00" stroke-width="1" />
<polyline points="267.60,93.60 294.50,93.60" fill="none" stroke="#00ff00" stroke-width="1"  shape-rendering="crispEdges"/>
<polyline points="268.50,93.60 268.50,96.60 282.90,96.60" fill="none" stroke="#00ff00" stroke-width="1"  shape-rendering="crispEdges"/>
<polyline points="245.30,93.50 206.20,93.50 206.20,302.40 714.00,302.40" fill="none" stroke="#00ff00" stroke-width="1"  shape-rendering="crispEdges"/>
<polyline points="247.70,96.40 212.00,96.40 212.00,102.70 209.60,102.70 209.60,294.20 212.50,294.20 212.50,299.80 702.60,299.80" fill="none" stroke="#00ff00" stroke-width="1"  shape-rendering="crispEdges"/>
<polyline points="206.20,296.00 209.70,296.00" fill="none" stroke="#00ff00" stroke-width="1"  shape-rendering="crispEdges"/>
<polyline points="209.00,296.00 209.00,302.30" fill="none" stroke="#00ff00" stroke-width="1"  shape-rendering="crispEdges"/>
<polyline points="206.20,100.00 209.30,100.00 209.30,93.50" fill="none" stroke="#00ff00" stroke-width="1"  shape-rendering="crispEdges"/>
<line x1="296.60" y1="93.50" x2="714.00" y2="93.50" stroke="#00ff00" stroke-width="1"  shape-rendering="crispEdges"/>
<line x1="285.50" y1="96.20" x2="349.40" y2="96.20" stroke="#00ff00" stroke-width="1"  shape-rendering="crispEdges"/>
<line x1="404.20" y1="95.80" x2="714.40" y2="95.80" stroke="#00ff00" stroke-width="1"  shape-rendering="crispEdges"/>
<rect x="421.00" y="93.00" width="19.00" height="3.80" fill="#00ff00" stroke="#00ff00" stroke-width="0"  shape-rendering="crispEdges"/>
<rect x="469.00" y="93.00" width="18.30" height="3.80" fill="#00ff00" stroke="#00ff00" stroke-width="0"  shape-rendering="crispEdges"/>
<rect x="504.50" y="93.00" width="19.50" height="3.80" fill="#00ff00" stroke="#00ff00" stroke-width="0"  shape-rendering="crispEdges"/>
<rect x="555.00" y="93.00" width="19.50" height="3.80" fill="#00ff00" stroke="#00ff00" stroke-width="0"  shape-rendering="crispEdges"/>
<rect x="592.00" y="93.00" width="19.50" height="3.80" fill="#00ff00" stroke="#00ff00" stroke-width="0"  shape-rendering="crispEdges"/>
<rect x="639.50" y="93.00" width="19.50" height="3.80" fill="#00ff00" stroke="#00ff00" stroke-width="0"  shape-rendering="crispEdges"/>
<rect x="682.50" y="93.00" width="21.00" height="3.80" fill="#00ff00" stroke="#00ff00" stroke-width="0"  shape-rendering="crispEdges"/>
<rect x="381.00" y="299.20" width="19.40" height="3.60" fill="#00ff00" stroke="#00ff00" stroke-width="0"  shape-rendering="crispEdges"/>
<rect x="406.90" y="299.20" width="20.90" height="3.60" fill="#00ff00" stroke="#00ff00" stroke-width="0"  shape-rendering="crispEdges"/>
<rect x="459.40" y="299.20" width="18.80" height="3.60" fill="#00ff00" stroke="#00ff00" stroke-width="0"  shape-rendering="crispEdges"/>
<rect x="494.40" y="299.20" width="20.10" height="3.60" fill="#00ff00" stroke="#00ff00" stroke-width="0"  shape-rendering="crispEdges"/>
<rect x="546.80" y="299.20" width="18.80" height="3.60" fill="#00ff00" stroke="#00ff00" stroke-width="0"  shape-rendering="crispEdges"/>
<rect x="581.70" y="299.20" width="20.20" height="3.60" fill="#00ff00" stroke="#00ff00" stroke-width="0"  shape-rendering="crispEdges"/>
<rect x="632.80" y="299.20" width="17.50" height="3.60" fill="#00ff00" stroke="#00ff00" stroke-width="0"  shape-rendering="crispEdges"/>
<rect x="667.70" y="299.20" width="18.90" height="3.60" fill="#00ff00" stroke="#00ff00" stroke-width="0"  shape-rendering="crispEdges"/>
<line x1="246.00" y1="96.50" x2="246.00" y2="100.50" stroke="#00ff00" stroke-width="1"  shape-rendering="crispEdges"/>
<line x1="246.00" y1="120.50" x2="246.00" y2="169.90" stroke="#00ff00" stroke-width="1"  shape-rendering="crispEdges"/>
<line x1="246.00" y1="187.90" x2="246.00" y2="190.20" stroke="#00ff00" stroke-width="1"  shape-rendering="crispEdges"/>
<line x1="248.00" y1="93.60" x2="248.00" y2="100.50" stroke="#00ff00" stroke-width="1"  shape-rendering="crispEdges"/>
<line x1="248.00" y1="120.50" x2="248.00" y2="169.90" stroke="#00ff00" stroke-width="1"  shape-rendering="crispEdges"/>
<line x1="248.00" y1="187.90" x2="248.00" y2="205.60" stroke="#00ff00" stroke-width="1"  shape-rendering="crispEdges"/>
<line x1="248.00" y1="223.60" x2="248.00" y2="229.80" stroke="#00ff00" stroke-width="1"  shape-rendering="crispEdges"/>
<line x1="246.00" y1="120.50" x2="248.00" y2="120.50" stroke="#00ff00" stroke-width="1"  shape-rendering="crispEdges"/>
<line x1="246.00" y1="169.90" x2="248.00" y2="169.90" stroke="#00ff00" stroke-width="1"  shape-rendering="crispEdges"/>
<line x1="246.00" y1="205.60" x2="248.00" y2="205.60" stroke="#00ff00" stroke-width="1"  shape-rendering="crispEdges"/>
<line x1="248.00" y1="100.50" x2="228.00" y2="100.50" stroke="#00ff00" stroke-width="1"  shape-rendering="crispEdges"/>
<path d="M228.00,100.50 A20.00,20.00 0 0 0 248.00,120.50" fill="none" stroke="#00ff00" stroke-width="1" />
<line x1="228.00" y1="100.50" x2="228.00" y2="103.60" stroke="#00ff00" stroke-width="1"  shape-rendering="crispEdges"/>
<line x1="209.70" y1="141.20" x2="246.00" y2="141.20" stroke="#00ff00" stroke-width="1"  shape-rendering="crispEdges"/>
<line x1="209.70" y1="144.30" x2="246.00" y2="144.30" stroke="#00ff00" stroke-width="1"  shape-rendering="crispEdges"/>
<ellipse cx="218.00" cy="128.00" rx="3.90" ry="5.20" fill="none" stroke="#00ff00" stroke-width="1.1"/>
<line x1="211.00" y1="116.00" x2="211.00" y2="142.00" stroke="#00ff00" stroke-width="1.8"  shape-rendering="crispEdges"/>
<rect x="210.00" y="134.60" width="18.80" height="4.00" fill="#00ff00" stroke="#00ff00" stroke-width="0"  shape-rendering="crispEdges"/>
<rect x="212.00" y="135.80" width="2.00" height="1.60" fill="#000" stroke="#000" stroke-width="0"  shape-rendering="crispEdges"/>
<rect x="216.50" y="135.80" width="9.50" height="1.60" fill="#000" stroke="#000" stroke-width="0"  shape-rendering="crispEdges"/>
<line x1="210.00" y1="131.40" x2="224.00" y2="131.40" stroke="#00ff00" stroke-width="1.2"  shape-rendering="crispEdges"/>
<rect x="233.40" y="131.00" width="12.10" height="10.00" fill="none" stroke="#00ff00" stroke-width="1"  shape-rendering="crispEdges"/>
<ellipse cx="239.60" cy="136.00" rx="4.40" ry="2.40" fill="none" stroke="#00ff00" stroke-width="1.1"/>
<rect x="210.00" y="146.30" width="18.80" height="3.90" fill="#00ff00" stroke="#00ff00" stroke-width="0"  shape-rendering="crispEdges"/>
<rect x="212.00" y="147.40" width="2.00" height="1.60" fill="#000" stroke="#000" stroke-width="0"  shape-rendering="crispEdges"/>
<rect x="216.50" y="147.40" width="9.50" height="1.60" fill="#000" stroke="#000" stroke-width="0"  shape-rendering="crispEdges"/>
<line x1="211.00" y1="144.00" x2="211.00" y2="172.00" stroke="#00ff00" stroke-width="1.8"  shape-rendering="crispEdges"/>
<line x1="210.00" y1="152.60" x2="222.00" y2="152.60" stroke="#00ff00" stroke-width="1.2"  shape-rendering="crispEdges"/>
<ellipse cx="218.00" cy="157.40" rx="3.90" ry="5.20" fill="none" stroke="#00ff00" stroke-width="1.1"/>
<rect x="233.40" y="144.60" width="12.10" height="9.00" fill="none" stroke="#00ff00" stroke-width="1"  shape-rendering="crispEdges"/>
<ellipse cx="239.30" cy="149.30" rx="4.60" ry="2.70" fill="none" stroke="#00ff00" stroke-width="1.1"/>
<line x1="246.00" y1="187.90" x2="228.00" y2="187.90" stroke="#00ff00" stroke-width="1"  shape-rendering="crispEdges"/>
<path d="M228.00,187.90 A18.00,18.00 0 0 1 246.00,169.90" fill="none" stroke="#00ff00" stroke-width="1" />
<polyline points="209.70,188.50 247.30,188.50 247.30,190.20" fill="none" stroke="#00ff00" stroke-width="1"  shape-rendering="crispEdges"/>
<polyline points="209.70,190.20 248.00,190.20" fill="none" stroke="#00ff00" stroke-width="1"  shape-rendering="crispEdges"/>
<line x1="209.70" y1="192.50" x2="245.50" y2="192.50" stroke="#00ff00" stroke-width="1"  shape-rendering="crispEdges"/>
<line x1="245.70" y1="192.50" x2="245.70" y2="205.60" stroke="#00ff00" stroke-width="1"  shape-rendering="crispEdges"/>
<line x1="245.70" y1="223.60" x2="245.70" y2="226.00" stroke="#00ff00" stroke-width="1"  shape-rendering="crispEdges"/>
<line x1="245.50" y1="223.60" x2="227.50" y2="223.60" stroke="#00ff00" stroke-width="1"  shape-rendering="crispEdges"/>
<path d="M227.50,223.60 A18.00,18.00 0 0 1 245.50,205.60" fill="none" stroke="#00ff00" stroke-width="1" />
<polyline points="228.00,223.00 228.00,224.50 247.30,224.50" fill="none" stroke="#00ff00" stroke-width="1"  shape-rendering="crispEdges"/>
<line x1="209.70" y1="226.00" x2="247.30" y2="226.00" stroke="#00ff00" stroke-width="1"  shape-rendering="crispEdges"/>
<line x1="209.70" y1="228.00" x2="247.30" y2="228.00" stroke="#00ff00" stroke-width="1"  shape-rendering="crispEdges"/>
<line x1="209.70" y1="229.80" x2="247.30" y2="229.80" stroke="#00ff00" stroke-width="1"  shape-rendering="crispEdges"/>
<path d="M227.30,229.80 A20.00,20.00 0 0 0 247.30,249.80" fill="none" stroke="#00ff00" stroke-width="1" />
<line x1="245.50" y1="249.30" x2="245.50" y2="299.40" stroke="#00ff00" stroke-width="1"  shape-rendering="crispEdges"/>
<line x1="247.30" y1="249.30" x2="247.30" y2="299.40" stroke="#00ff00" stroke-width="1"  shape-rendering="crispEdges"/>
<line x1="245.50" y1="249.30" x2="247.30" y2="249.30" stroke="#00ff00" stroke-width="1"  shape-rendering="crispEdges"/>
<line x1="282.90" y1="96.60" x2="282.90" y2="249.60" stroke="#00ff00" stroke-width="1"  shape-rendering="crispEdges"/>
<line x1="285.50" y1="96.40" x2="285.50" y2="247.00" stroke="#00ff00" stroke-width="1"  shape-rendering="crispEdges"/>
<polyline points="282.20,249.60 354.80,249.60" fill="none" stroke="#00ff00" stroke-width="1"  shape-rendering="crispEdges"/>
<polyline points="285.50,247.20 354.80,247.20 354.80,249.60" fill="none" stroke="#00ff00" stroke-width="1"  shape-rendering="crispEdges"/>
<polyline points="373.50,249.60 404.60,249.60 404.60,136.80" fill="none" stroke="#00ff00" stroke-width="1"  shape-rendering="crispEdges"/>
<polyline points="373.50,247.20 402.40,247.20 402.40,136.80" fill="none" stroke="#00ff00" stroke-width="1"  shape-rendering="crispEdges"/>
<line x1="402.40" y1="136.80" x2="404.60" y2="136.80" stroke="#00ff00" stroke-width="1"  shape-rendering="crispEdges"/>
<line x1="373.50" y1="249.80" x2="373.50" y2="268.50" stroke="#00ff00" stroke-width="1"  shape-rendering="crispEdges"/>
<path d="M373.50,268.50 A18.70,18.70 0 0 1 354.80,249.80" fill="none" stroke="#00ff00" stroke-width="1" />
<rect x="286.00" y="121.60" width="10.00" height="19.40" fill="#00ff00" stroke="#00ff00" stroke-width="0"  shape-rendering="crispEdges"/>
<rect x="288.20" y="126.50" width="2.00" height="5.50" fill="#000" stroke="#000" stroke-width="0"  shape-rendering="crispEdges"/>
<rect x="292.00" y="126.50" width="2.20" height="5.50" fill="#000" stroke="#000" stroke-width="0"  shape-rendering="crispEdges"/>
<rect x="288.20" y="135.00" width="6.00" height="1.30" fill="#000" stroke="#000" stroke-width="0"  shape-rendering="crispEdges"/>
<polyline points="347.30,106.70 294.60,106.70 294.60,121.60" fill="none" stroke="#00ff00" stroke-width="1"  shape-rendering="crispEdges"/>
<line x1="295.00" y1="141.00" x2="295.00" y2="155.50" stroke="#00ff00" stroke-width="1"  shape-rendering="crispEdges"/>
<line x1="286.00" y1="155.50" x2="304.00" y2="155.50" stroke="#00ff00" stroke-width="1"  shape-rendering="crispEdges"/>
<line x1="302.00" y1="155.50" x2="302.00" y2="192.50" stroke="#00ff00" stroke-width="1"  shape-rendering="crispEdges"/>
<line x1="304.00" y1="155.50" x2="304.00" y2="192.50" stroke="#00ff00" stroke-width="1"  shape-rendering="crispEdges"/>
<line x1="286.00" y1="173.50" x2="303.40" y2="173.50" stroke="#00ff00" stroke-width="1.6"  shape-rendering="crispEdges"/>
<line x1="286.00" y1="192.50" x2="304.00" y2="192.50" stroke="#00ff00" stroke-width="1"  shape-rendering="crispEdges"/>
<line x1="295.30" y1="192.50" x2="295.30" y2="247.00" stroke="#00ff00" stroke-width="1"  shape-rendering="crispEdges"/>
<line x1="286.00" y1="223.60" x2="295.30" y2="223.60" stroke="#00ff00" stroke-width="1"  shape-rendering="crispEdges"/>
<line x1="286.00" y1="229.80" x2="295.30" y2="229.80" stroke="#00ff00" stroke-width="1"  shape-rendering="crispEdges"/>
<line x1="286.00" y1="236.00" x2="295.30" y2="236.00" stroke="#00ff00" stroke-width="1"  shape-rendering="crispEdges"/>
<line x1="286.00" y1="242.30" x2="295.30" y2="242.30" stroke="#00ff00" stroke-width="1"  shape-rendering="crispEdges"/>
<rect x="286.50" y="203.00" width="9.50" height="15.60" fill="#00ff00" stroke="#00ff00" stroke-width="0"  shape-rendering="crispEdges"/>
<line x1="291.20" y1="204.50" x2="291.20" y2="217.00" stroke="#000" stroke-width="1.0"  shape-rendering="crispEdges"/>
<line x1="288.00" y1="212.50" x2="294.50" y2="212.50" stroke="#000" stroke-width="1.0"  shape-rendering="crispEdges"/>
<rect x="295.60" y="238.20" width="12.20" height="9.00" fill="#00ff00" stroke="#00ff00" stroke-width="0"  shape-rendering="crispEdges"/>
<rect x="297.50" y="240.00" width="3.50" height="1.20" fill="#000" stroke="#000" stroke-width="0"  shape-rendering="crispEdges"/>
<rect x="302.50" y="240.00" width="3.50" height="1.20" fill="#000" stroke="#000" stroke-width="0"  shape-rendering="crispEdges"/>
<rect x="298.00" y="243.50" width="7.50" height="1.10" fill="#000" stroke="#000" stroke-width="0"  shape-rendering="crispEdges"/>
<polyline points="307.80,239.80 314.40,239.80" fill="none" stroke="#00ff00" stroke-width="1"  shape-rendering="crispEdges"/>
<rect x="314.40" y="237.30" width="12.40" height="9.90" fill="none" stroke="#00ff00" stroke-width="1"  shape-rendering="crispEdges"/>
<polyline points="314.40,238.60 353.60,238.60 353.60,247.20" fill="none" stroke="#00ff00" stroke-width="1"  shape-rendering="crispEdges"/>
<rect x="312.50" y="94.90" width="19.90" height="11.10" fill="#00ff00" stroke="#00ff00" stroke-width="0"  shape-rendering="crispEdges"/>
<rect x="315.50" y="100.00" width="5.00" height="4.50" fill="#000" stroke="#000" stroke-width="0"  shape-rendering="crispEdges"/>
<rect x="317.00" y="101.20" width="3.50" height="2.10" fill="#00ff00" stroke="#00ff00" stroke-width="0"  shape-rendering="crispEdges"/>
<rect x="323.50" y="100.00" width="4.50" height="4.50" fill="#000" stroke="#000" stroke-width="0"  shape-rendering="crispEdges"/>
<rect x="325.00" y="101.20" width="1.60" height="2.10" fill="#00ff00" stroke="#00ff00" stroke-width="0"  shape-rendering="crispEdges"/>
<rect x="333.60" y="96.40" width="13.70" height="9.60" fill="none" stroke="#00ff00" stroke-width="1"  shape-rendering="crispEdges"/>
<rect x="352.50" y="93.60" width="2.70" height="5.40" fill="none" stroke="#00ff00" stroke-width="1"  shape-rendering="crispEdges"/>
<polyline points="350.80,96.40 350.80,102.10 357.00,102.10 357.00,114.20 359.30,114.20 359.30,116.90" fill="none" stroke="#00ff00" stroke-width="1"  shape-rendering="crispEdges"/>
<polyline points="349.40,96.40 349.40,103.60 355.60,103.60 355.60,107.00" fill="none" stroke="#00ff00" stroke-width="1"  shape-rendering="crispEdges"/>
<polyline points="361.50,116.90 361.50,114.20 359.30,114.20 359.30,96.40 402.70,96.40 402.70,114.20 400.90,114.20 400.90,116.90" fill="none" stroke="#00ff00" stroke-width="1"  shape-rendering="crispEdges"/>
<polyline points="404.20,95.40 404.20,118.70" fill="none" stroke="#00ff00" stroke-width="1"  shape-rendering="crispEdges"/>
<rect x="374.00" y="114.20" width="14.80" height="2.70" fill="none" stroke="#00ff00" stroke-width="1"  shape-rendering="crispEdges"/>
<line x1="374.00" y1="115.90" x2="388.80" y2="115.90" stroke="#00ff00" stroke-width="1"  shape-rendering="crispEdges"/>
<line x1="361.50" y1="116.90" x2="361.50" y2="128.50" stroke="#00ff00" stroke-width="1"  shape-rendering="crispEdges"/>
<path d="M361.50,128.50 A11.60,11.60 0 0 0 373.10,116.90" fill="none" stroke="#00ff00" stroke-width="1" />
<line x1="400.90" y1="116.90" x2="400.90" y2="128.50" stroke="#00ff00" stroke-width="1"  shape-rendering="crispEdges"/>
<path d="M400.90,128.50 A11.60,11.60 0 0 1 389.30,116.90" fill="none" stroke="#00ff00" stroke-width="1" />
<line x1="402.70" y1="118.70" x2="421.90" y2="118.70" stroke="#00ff00" stroke-width="1"  shape-rendering="crispEdges"/>
<path d="M421.90,118.70 A19.20,19.20 0 0 1 402.70,137.90" fill="none" stroke="#00ff00" stroke-width="1" />
<rect x="333.00" y="136.00" width="3.00" height="78.00" fill="#000" stroke="#000" stroke-width="0"  shape-rendering="crispEdges"/>
<rect x="333" y="136" width="1" height="78" fill="#00ff00" shape-rendering="crispEdges"/>
<rect x="335" y="136" width="1" height="78" fill="#00ff00" shape-rendering="crispEdges"/>
<rect x="333" y="136" width="3" height="1" fill="#00ff00" shape-rendering="crispEdges"/>
<rect x="333" y="213" width="3" height="1" fill="#00ff00" shape-rendering="crispEdges"/>
<line x1="360.80" y1="141.20" x2="403.40" y2="141.20" stroke="#00ff00" stroke-width="1"  shape-rendering="crispEdges"/>
<line x1="360.80" y1="150.50" x2="395.90" y2="150.50" stroke="#00ff00" stroke-width="1"  shape-rendering="crispEdges"/>
<line x1="359.80" y1="210.60" x2="395.90" y2="210.60" stroke="#00ff00" stroke-width="1"  shape-rendering="crispEdges"/>
<polyline points="360.40,220.50 393.40,220.50 393.40,238.60 375.40,238.60 375.40,247.20" fill="none" stroke="#00ff00" stroke-width="1"  shape-rendering="crispEdges"/>
<path d="M407.0,150.4 Q410.6,150.6 410.6,153.4 V207.0 Q410.6,210.6 404.6,210.6" fill="none" stroke="#00ff00" stroke-width="1" />
<line x1="714.40" y1="96.40" x2="714.40" y2="176.00" stroke="#00ff00" stroke-width="1"  shape-rendering="crispEdges"/>
<polyline points="714.00,93.50 714.00,81.00 775.90,81.00 775.90,180.80" fill="none" stroke="#00ff00" stroke-width="1"  shape-rendering="crispEdges"/>
<polyline points="717.50,164.00 717.50,84.30 772.80,84.30 772.80,164.60" fill="none" stroke="#00ff00" stroke-width="3.2"  shape-rendering="crispEdges"/>
<line x1="719.00" y1="112.10" x2="742.00" y2="112.10" stroke="#00ff00" stroke-width="1.1"  shape-rendering="crispEdges"/>
<line x1="747.50" y1="112.10" x2="771.20" y2="112.10" stroke="#00ff00" stroke-width="1.1"  shape-rendering="crispEdges"/>
<line x1="719.00" y1="117.60" x2="742.00" y2="117.60" stroke="#00ff00" stroke-width="1.1"  shape-rendering="crispEdges"/>
<line x1="747.50" y1="117.60" x2="771.20" y2="117.60" stroke="#00ff00" stroke-width="1.1"  shape-rendering="crispEdges"/>
<line x1="719.00" y1="123.10" x2="742.00" y2="123.10" stroke="#00ff00" stroke-width="1.1"  shape-rendering="crispEdges"/>
<line x1="747.50" y1="123.10" x2="771.20" y2="123.10" stroke="#00ff00" stroke-width="1.1"  shape-rendering="crispEdges"/>
<line x1="719.00" y1="128.60" x2="742.00" y2="128.60" stroke="#00ff00" stroke-width="1.1"  shape-rendering="crispEdges"/>
<line x1="747.50" y1="128.60" x2="771.20" y2="128.60" stroke="#00ff00" stroke-width="1.1"  shape-rendering="crispEdges"/>
<line x1="719.00" y1="134.10" x2="742.00" y2="134.10" stroke="#00ff00" stroke-width="1.1"  shape-rendering="crispEdges"/>
<line x1="747.50" y1="134.10" x2="771.20" y2="134.10" stroke="#00ff00" stroke-width="1.1"  shape-rendering="crispEdges"/>
<line x1="719.00" y1="139.60" x2="742.00" y2="139.60" stroke="#00ff00" stroke-width="1.1"  shape-rendering="crispEdges"/>
<line x1="719.00" y1="145.10" x2="742.00" y2="145.10" stroke="#00ff00" stroke-width="1.1"  shape-rendering="crispEdges"/>
<line x1="719.00" y1="150.60" x2="742.00" y2="150.60" stroke="#00ff00" stroke-width="1.1"  shape-rendering="crispEdges"/>
<line x1="719.00" y1="156.10" x2="742.00" y2="156.10" stroke="#00ff00" stroke-width="1.1"  shape-rendering="crispEdges"/>
<rect x="742.00" y="110.00" width="3.90" height="54.00" fill="#00ff00" stroke="#00ff00" stroke-width="0"  shape-rendering="crispEdges"/>
<line x1="747.50" y1="110.00" x2="747.50" y2="183.50" stroke="#00ff00" stroke-width="1"  shape-rendering="crispEdges"/>
<line x1="742.00" y1="110.30" x2="747.50" y2="110.30" stroke="#00ff00" stroke-width="1"  shape-rendering="crispEdges"/>
<line x1="716.00" y1="163.00" x2="747.00" y2="163.00" stroke="#00ff00" stroke-width="2.0"  shape-rendering="crispEdges"/>
<line x1="716.00" y1="166.80" x2="747.50" y2="166.80" stroke="#00ff00" stroke-width="1"  shape-rendering="crispEdges"/>
<line x1="766.50" y1="164.40" x2="773.50" y2="164.40" stroke="#00ff00" stroke-width="1"  shape-rendering="crispEdges"/>
<line x1="766.50" y1="166.80" x2="773.50" y2="166.80" stroke="#00ff00" stroke-width="1"  shape-rendering="crispEdges"/>
<line x1="766.50" y1="164.40" x2="766.50" y2="166.80" stroke="#00ff00" stroke-width="1"  shape-rendering="crispEdges"/>
<path d="M747.50,183.90 A19.00,19.00 0 0 0 766.50,164.90" fill="none" stroke="#00ff00" stroke-width="1" />
<line x1="773.30" y1="164.00" x2="773.30" y2="180.80" stroke="#00ff00" stroke-width="1"  shape-rendering="crispEdges"/>
<line x1="773.30" y1="217.40" x2="773.30" y2="285.50" stroke="#00ff00" stroke-width="1"  shape-rendering="crispEdges"/>
<line x1="775.80" y1="217.40" x2="775.80" y2="285.50" stroke="#00ff00" stroke-width="1"  shape-rendering="crispEdges"/>
<line x1="775.80" y1="180.80" x2="794.00" y2="180.80" stroke="#00ff00" stroke-width="1"  shape-rendering="crispEdges"/>
<path d="M794.00,180.80 A18.20,18.20 0 0 1 775.80,199.00" fill="none" stroke="#00ff00" stroke-width="1" />
<line x1="775.80" y1="217.40" x2="794.00" y2="217.40" stroke="#00ff00" stroke-width="1"  shape-rendering="crispEdges"/>
<path d="M794.00,217.40 A18.20,18.20 0 0 0 775.80,199.20" fill="none" stroke="#00ff00" stroke-width="1" />
<rect x="700.00" y="153.00" width="13.80" height="23.00" fill="#000" stroke="#000" stroke-width="0"  shape-rendering="crispEdges"/>
<path d="M712.6,140.1 A12.8,12.8 0 0 0 699.8,152.6" fill="none" stroke="#00ff00" stroke-width="1" />
<line x1="709.60" y1="140.00" x2="709.60" y2="152.50" stroke="#ffffff" stroke-width="1"  shape-rendering="crispEdges"/>
<polyline points="699.80,152.50 699.80,173.40 714.20,173.40 714.20,153.00 712.60,153.00 712.60,140.10" fill="none" stroke="#00ff00" stroke-width="1"  shape-rendering="crispEdges"/>
<polyline points="699.30,175.50 716.20,175.50 716.20,166.80" fill="none" stroke="#00ff00" stroke-width="1"  shape-rendering="crispEdges"/>
<polyline points="699.30,175.50 699.30,179.90" fill="none" stroke="#00ff00" stroke-width="1"  shape-rendering="crispEdges"/>
<line x1="699.30" y1="179.90" x2="717.30" y2="179.90" stroke="#00ff00" stroke-width="1"  shape-rendering="crispEdges"/>
<path d="M717.30,179.90 A18.00,18.00 0 0 1 699.30,197.90" fill="none" stroke="#00ff00" stroke-width="1" />
<path d="M717.30,216.60 A18.00,18.00 0 0 0 699.30,198.60" fill="none" stroke="#00ff00" stroke-width="1" />
<polyline points="698.00,217.40 698.00,219.50 702.60,221.00 702.60,299.40" fill="none" stroke="#00ff00" stroke-width="1" />
<polyline points="699.50,217.40 704.80,220.00 704.80,232.40" fill="none" stroke="#00ff00" stroke-width="1" />
<rect x="703.20" y="230.20" width="38.80" height="68.80" fill="#000" stroke="#000" stroke-width="0"  shape-rendering="crispEdges"/>
<polyline points="704.80,277.20 704.80,232.40 740.40,232.40 740.40,277.20 704.80,277.20" fill="none" stroke="#00ff00" stroke-width="1"  shape-rendering="crispEdges"/>
<polyline points="740.40,232.40 742.30,232.40 742.30,313.00" fill="none" stroke="#00ff00" stroke-width="1"  shape-rendering="crispEdges"/>
<polyline points="742.30,229.60 752.30,229.60" fill="none" stroke="#00ff00" stroke-width="1"  shape-rendering="crispEdges"/>
<polyline points="740.40,229.60 740.40,232.40" fill="none" stroke="#00ff00" stroke-width="1"  shape-rendering="crispEdges"/>
<line x1="740.90" y1="244.00" x2="740.90" y2="264.00" stroke="#00ff00" stroke-width="1.6"  shape-rendering="crispEdges"/>
<polyline points="716.80,300.50 704.80,300.50 704.80,279.30 740.40,279.30 740.40,311.50" fill="none" stroke="#00ff00" stroke-width="1"  shape-rendering="crispEdges"/>
<line x1="769.70" y1="229.60" x2="769.70" y2="247.20" stroke="#00ff00" stroke-width="1"  shape-rendering="crispEdges"/>
<path d="M769.70,247.20 A17.60,17.60 0 0 1 752.10,229.60" fill="none" stroke="#00ff00" stroke-width="1" />
<polyline points="752.30,229.60 752.30,231.50" fill="none" stroke="#00ff00" stroke-width="1"  shape-rendering="crispEdges"/>
<polyline points="769.70,229.60 773.30,229.60" fill="none" stroke="#00ff00" stroke-width="1"  shape-rendering="crispEdges"/>
<line x1="771.00" y1="229.60" x2="771.00" y2="250.40" stroke="#00ff00" stroke-width="1"  shape-rendering="crispEdges"/>
<polyline points="742.30,282.40 752.30,282.40 752.30,285.50 742.30,285.50" fill="none" stroke="#00ff00" stroke-width="1"  shape-rendering="crispEdges"/>
<polyline points="771.00,282.40 773.30,282.40" fill="none" stroke="#00ff00" stroke-width="1"  shape-rendering="crispEdges"/>
<polyline points="771.00,285.50 775.80,285.50" fill="none" stroke="#00ff00" stroke-width="1"  shape-rendering="crispEdges"/>
<line x1="771.00" y1="285.50" x2="771.00" y2="304.20" stroke="#00ff00" stroke-width="1"  shape-rendering="crispEdges"/>
<path d="M771.00,304.20 A18.70,18.70 0 0 1 752.30,285.50" fill="none" stroke="#00ff00" stroke-width="1" />
<polyline points="714.00,302.30 714.00,313.80 720.80,313.80" fill="none" stroke="#00ff00" stroke-width="1"  shape-rendering="crispEdges"/>
<polyline points="716.50,300.50 716.50,311.50 719.50,311.50" fill="none" stroke="#00ff00" stroke-width="1"  shape-rendering="crispEdges"/>
<polyline points="740.40,311.50 738.20,311.50 738.20,313.80" fill="none" stroke="#00ff00" stroke-width="1"  shape-rendering="crispEdges"/>
<line x1="739.00" y1="313.80" x2="739.00" y2="332.20" stroke="#00ff00" stroke-width="1"  shape-rendering="crispEdges"/>
<path d="M739.00,332.20 A18.40,18.40 0 0 1 720.60,313.80" fill="none" stroke="#00ff00" stroke-width="1" />
<rect x="325.00" y="298.60" width="18.00" height="4.60" fill="#000" stroke="#000" stroke-width="0"  shape-rendering="crispEdges"/>
<line x1="324.60" y1="299.60" x2="324.60" y2="302.60" stroke="#00ff00" stroke-width="1"  shape-rendering="crispEdges"/>
<line x1="343.50" y1="300.20" x2="343.50" y2="320.00" stroke="#00ff00" stroke-width="1"  shape-rendering="crispEdges"/>
<path d="M343.50,320.00 A19.80,19.80 0 0 1 323.70,300.20" fill="none" stroke="#00ff00" stroke-width="1" />
<line x1="296.10" y1="302.30" x2="296.10" y2="341.00" stroke="#00ff00" stroke-width="1"  shape-rendering="crispEdges"/>
<line x1="298.40" y1="302.30" x2="298.40" y2="341.00" stroke="#00ff00" stroke-width="1"  shape-rendering="crispEdges"/>
<line x1="345.30" y1="300.60" x2="345.30" y2="341.00" stroke="#00ff00" stroke-width="1"  shape-rendering="crispEdges"/>
<line x1="347.20" y1="302.30" x2="347.20" y2="341.00" stroke="#00ff00" stroke-width="1"  shape-rendering="crispEdges"/>
<polyline points="343.50,300.60 345.30,300.60" fill="none" stroke="#00ff00" stroke-width="1"  shape-rendering="crispEdges"/>
<line x1="278.00" y1="341.00" x2="298.40" y2="341.00" stroke="#00ff00" stroke-width="1"  shape-rendering="crispEdges"/>
<line x1="345.30" y1="341.00" x2="365.60" y2="341.00" stroke="#00ff00" stroke-width="1"  shape-rendering="crispEdges"/>
<line x1="278.00" y1="341.00" x2="278.00" y2="342.50" stroke="#00ff00" stroke-width="1"  shape-rendering="crispEdges"/>
<line x1="365.60" y1="341.00" x2="365.60" y2="342.50" stroke="#00ff00" stroke-width="1"  shape-rendering="crispEdges"/>
<path d="M278.0,342.0 A18.1,18.1 0 0 0 296.1,359.1" fill="none" stroke="#00ff00" stroke-width="1" />
<path d="M365.6,342.0 A18.4,18.4 0 0 1 347.2,359.1" fill="none" stroke="#00ff00" stroke-width="1" />
<polyline points="294.00,359.10 298.40,359.10" fill="none" stroke="#00ff00" stroke-width="1"  shape-rendering="crispEdges"/>
<polyline points="345.30,359.10 349.50,359.10" fill="none" stroke="#00ff00" stroke-width="1"  shape-rendering="crispEdges"/>
<polyline points="296.10,359.10 296.10,413.50 325.60,413.50 325.60,408.00" fill="none" stroke="#00ff00" stroke-width="1"  shape-rendering="crispEdges"/>
<polyline points="298.40,359.10 298.40,411.30 325.60,411.30" fill="none" stroke="#00ff00" stroke-width="1"  shape-rendering="crispEdges"/>
<polyline points="345.30,359.10 345.30,411.30" fill="none" stroke="#00ff00" stroke-width="1"  shape-rendering="crispEdges"/>
<polyline points="347.20,359.10 347.20,411.30 359.60,411.30" fill="none" stroke="#00ff00" stroke-width="1"  shape-rendering="crispEdges"/>
<polyline points="343.50,393.30 343.50,413.50 358.40,413.50" fill="none" stroke="#00ff00" stroke-width="1"  shape-rendering="crispEdges"/>
<line x1="358.40" y1="408.00" x2="358.40" y2="415.70" stroke="#00ff00" stroke-width="1"  shape-rendering="crispEdges"/>
<path d="M325.6,411.0 A18,18 0 0 1 343.5,393.3" fill="none" stroke="#00ff00" stroke-width="1" />
<line x1="317.30" y1="352.30" x2="332.00" y2="352.30" stroke="#00ff00" stroke-width="1.1"  shape-rendering="crispEdges"/>
<line x1="320.50" y1="352.30" x2="320.50" y2="353.60" stroke="#00ff00" stroke-width="1.4"  shape-rendering="crispEdges"/>
<line x1="328.50" y1="352.30" x2="328.50" y2="353.60" stroke="#00ff00" stroke-width="1.4"  shape-rendering="crispEdges"/>
<line x1="251.70" y1="266.00" x2="251.70" y2="276.70" stroke="#00ff00" stroke-width="1"  shape-rendering="crispEdges"/>
<line x1="262.30" y1="298.30" x2="273.50" y2="298.30" stroke="#00ff00" stroke-width="1.6"  shape-rendering="crispEdges"/>
<text x="228.40" y="135.60" font-family="Liberation Sans, sans-serif" font-size="4.86" font-weight="bold" fill="#00ffff" stroke="#00ffff" stroke-width="0.55" text-anchor="start" textLength="16.20" lengthAdjust="spacingAndGlyphs" >WOMEN</text>
<rect x="228.40" y="132.40" width="16.20" height="3.20" fill="#00ffff" stroke="#00ffff" stroke-width="0" opacity="0.38" shape-rendering="auto"/>
<line x1="227.80" y1="136.20" x2="245.20" y2="136.20" stroke="#00ffff" stroke-width="1.0"  shape-rendering="crispEdges"/>
<text x="234.20" y="160.40" font-family="Liberation Sans, sans-serif" font-size="4.86" font-weight="bold" fill="#00ffff" stroke="#00ffff" stroke-width="0.55" text-anchor="start" textLength="10.00" lengthAdjust="spacingAndGlyphs" >MEN</text>
<rect x="234.20" y="157.20" width="10.00" height="3.20" fill="#00ffff" stroke="#00ffff" stroke-width="0" opacity="0.38" shape-rendering="auto"/>
<line x1="233.60" y1="161.00" x2="244.80" y2="161.00" stroke="#00ffff" stroke-width="1.0"  shape-rendering="crispEdges"/>
<text x="253.50" y="176.00" font-family="Liberation Sans, sans-serif" font-size="4.57" font-weight="bold" fill="#00ffff" stroke="#00ffff" stroke-width="0.55" text-anchor="start" textLength="19.30" lengthAdjust="spacingAndGlyphs" >HALLWAY</text>
<rect x="253.50" y="173.00" width="19.30" height="3.00" fill="#00ffff" stroke="#00ffff" stroke-width="0" opacity="0.38" shape-rendering="auto"/>
<line x1="252.90" y1="176.60" x2="273.40" y2="176.60" stroke="#00ffff" stroke-width="1.0"  shape-rendering="crispEdges"/>
<text x="213.70" y="197.00" font-family="Liberation Sans, sans-serif" font-size="4.29" font-weight="bold" fill="#00ffff" stroke="#00ffff" stroke-width="0.55" text-anchor="start" textLength="24.90" lengthAdjust="spacingAndGlyphs" >ELECTRICAL</text>
<rect x="213.70" y="194.20" width="24.90" height="2.80" fill="#00ffff" stroke="#00ffff" stroke-width="0" opacity="0.38" shape-rendering="auto"/>
<line x1="213.10" y1="197.60" x2="239.20" y2="197.60" stroke="#00ffff" stroke-width="1.0"  shape-rendering="crispEdges"/>
<text x="220.00" y="203.30" font-family="Liberation Sans, sans-serif" font-size="4.29" font-weight="bold" fill="#00ffff" stroke="#00ffff" stroke-width="0.55" text-anchor="start" textLength="13.00" lengthAdjust="spacingAndGlyphs" >ROOM</text>
<rect x="220.00" y="200.50" width="13.00" height="2.80" fill="#00ffff" stroke="#00ffff" stroke-width="0" opacity="0.38" shape-rendering="auto"/>
<line x1="219.40" y1="203.90" x2="233.60" y2="203.90" stroke="#00ffff" stroke-width="1.0"  shape-rendering="crispEdges"/>
<text x="225.50" y="261.00" font-family="Liberation Sans, sans-serif" font-size="5.43" font-weight="bold" fill="#00ffff" stroke="#00ffff" stroke-width="0.55" text-anchor="start" textLength="19.30" lengthAdjust="spacingAndGlyphs" >STORAGE</text>
<rect x="225.50" y="257.40" width="19.30" height="3.60" fill="#00ffff" stroke="#00ffff" stroke-width="0" opacity="0.38" shape-rendering="auto"/>
<line x1="224.90" y1="261.60" x2="245.40" y2="261.60" stroke="#00ffff" stroke-width="1.0"  shape-rendering="crispEdges"/>
<text x="337.00" y="163.80" font-family="Liberation Sans, sans-serif" font-size="5.14" font-weight="bold" fill="#00ffff" stroke="#00ffff" stroke-width="0.55" text-anchor="start" textLength="44.00" lengthAdjust="spacingAndGlyphs" >SERVING KITCHEN</text>
<rect x="337.00" y="160.40" width="44.00" height="3.40" fill="#00ffff" stroke="#00ffff" stroke-width="0" opacity="0.38" shape-rendering="auto"/>
<line x1="336.40" y1="164.40" x2="381.60" y2="164.40" stroke="#00ffff" stroke-width="1.0"  shape-rendering="crispEdges"/>
<text x="524.50" y="140.60" font-family="Liberation Sans, sans-serif" font-size="5.14" font-weight="bold" fill="#00ffff" stroke="#00ffff" stroke-width="0.55" text-anchor="start" textLength="38.50" lengthAdjust="spacingAndGlyphs" >FELLOWSHIP HALL</text>
<rect x="524.50" y="137.20" width="38.50" height="3.40" fill="#00ffff" stroke="#00ffff" stroke-width="0" opacity="0.38" shape-rendering="auto"/>
<line x1="523.90" y1="141.20" x2="563.60" y2="141.20" stroke="#00ffff" stroke-width="1.0"  shape-rendering="crispEdges"/>
<text x="703.60" y="161.40" font-family="Liberation Sans, sans-serif" font-size="4.57" font-weight="normal" fill="#00ffff" stroke="#00ffff" stroke-width="0.55" text-anchor="start" textLength="8.20" lengthAdjust="spacingAndGlyphs" >A/C</text>
<text x="698.80" y="166.20" font-family="Liberation Sans, sans-serif" font-size="4.29" font-weight="bold" fill="#00ffff" stroke="#00ffff" stroke-width="0.55" text-anchor="start" textLength="16.20" lengthAdjust="spacingAndGlyphs" >CLOSET</text>
<rect x="698.80" y="163.40" width="16.20" height="2.80" fill="#00ffff" stroke="#00ffff" stroke-width="0" opacity="0.38" shape-rendering="auto"/>
<line x1="698.20" y1="166.80" x2="715.60" y2="166.80" stroke="#00ffff" stroke-width="1.0"  shape-rendering="crispEdges"/>
<text x="750.40" y="189.20" font-family="Liberation Sans, sans-serif" font-size="4.57" font-weight="bold" fill="#00ffff" stroke="#00ffff" stroke-width="0.55" text-anchor="start" textLength="13.60" lengthAdjust="spacingAndGlyphs" >LOBBY</text>
<rect x="750.40" y="186.20" width="13.60" height="3.00" fill="#00ffff" stroke="#00ffff" stroke-width="0" opacity="0.38" shape-rendering="auto"/>
<line x1="749.80" y1="189.80" x2="764.60" y2="189.80" stroke="#00ffff" stroke-width="1.0"  shape-rendering="crispEdges"/>
<text x="711.80" y="255.40" font-family="Liberation Sans, sans-serif" font-size="4.57" font-weight="bold" fill="#00ffff" stroke="#00ffff" stroke-width="0.55" text-anchor="start" textLength="21.20" lengthAdjust="spacingAndGlyphs" >ELEVATOR</text>
<rect x="711.80" y="252.40" width="21.20" height="3.00" fill="#00ffff" stroke="#00ffff" stroke-width="0" opacity="0.38" shape-rendering="auto"/>
<line x1="711.20" y1="256.00" x2="733.60" y2="256.00" stroke="#00ffff" stroke-width="1.0"  shape-rendering="crispEdges"/>
<text x="707.40" y="286.00" font-family="Liberation Sans, sans-serif" font-size="5.14" font-weight="bold" fill="#00ffff" stroke="#00ffff" stroke-width="0.55" text-anchor="start" textLength="29.30" lengthAdjust="spacingAndGlyphs" >ELEV. EQUIP.</text>
<rect x="707.40" y="282.60" width="29.30" height="3.40" fill="#00ffff" stroke="#00ffff" stroke-width="0" opacity="0.38" shape-rendering="auto"/>
<line x1="706.80" y1="286.60" x2="737.30" y2="286.60" stroke="#00ffff" stroke-width="1.0"  shape-rendering="crispEdges"/>
<text x="715.50" y="291.00" font-family="Liberation Sans, sans-serif" font-size="4.86" font-weight="bold" fill="#00ffff" stroke="#00ffff" stroke-width="0.55" text-anchor="start" textLength="13.70" lengthAdjust="spacingAndGlyphs" >ROOM</text>
<rect x="715.50" y="287.80" width="13.70" height="3.20" fill="#00ffff" stroke="#00ffff" stroke-width="0" opacity="0.38" shape-rendering="auto"/>
<line x1="714.90" y1="291.60" x2="729.80" y2="291.60" stroke="#00ffff" stroke-width="1.0"  shape-rendering="crispEdges"/>
<text x="320.20" y="80.00" font-family="Liberation Sans, sans-serif" font-size="4.86" font-weight="bold" fill="#00ffff" stroke="#00ffff" stroke-width="0.55" text-anchor="start" textLength="19.60" lengthAdjust="spacingAndGlyphs" >EXHAUST</text>
<text x="356.00" y="80.00" font-family="Liberation Sans, sans-serif" font-size="4.86" font-weight="bold" fill="#00ffff" stroke="#00ffff" stroke-width="0.55" text-anchor="start" textLength="36.80" lengthAdjust="spacingAndGlyphs" >INLINE EXHAUST</text>
<text x="356.00" y="84.80" font-family="Liberation Sans, sans-serif" font-size="4.86" font-weight="bold" fill="#00ffff" stroke="#00ffff" stroke-width="0.55" text-anchor="start" textLength="35.00" lengthAdjust="spacingAndGlyphs" >FAN 1600 CFM</text>
<polyline points="354.80,78.20 347.30,78.20 333.60,94.90" fill="none" stroke="#00ff00" stroke-width="1" />
<line x1="329.90" y1="81.20" x2="329.90" y2="95.00" stroke="#f47373" stroke-width="1.0"  shape-rendering="crispEdges"/>
<line x1="330.00" y1="95.00" x2="330.00" y2="156.00" stroke="#f47373" stroke-width="1.7" shape-rendering="auto"/>
<line x1="328.00" y1="89.30" x2="331.90" y2="89.30" stroke="#f47373" stroke-width="1.0"  shape-rendering="crispEdges"/>
<line x1="329.00" y1="83.60" x2="330.00" y2="83.60" stroke="#f47373" stroke-width="1.0"  shape-rendering="crispEdges"/>
<polyline points="329.90,99.00 332.20,97.80 332.20,100.80" fill="none" stroke="#f47373" stroke-width="1.0" />
<text x="408.00" y="337.90" font-family="Liberation Sans, sans-serif" font-size="8.4" font-weight="normal" fill="#00ffff" stroke="#00ffff" stroke-width="0.35" text-anchor="start" textLength="137.00" lengthAdjust="spacingAndGlyphs" >FIRST FLOOR REFLECTED CEILING PLAN</text>
<line x1="406.00" y1="338.60" x2="547.90" y2="338.60" stroke="#00ffff" stroke-width="1.9"  shape-rendering="crispEdges"/>
<text x="451.00" y="344.00" font-family="Liberation Sans, sans-serif" font-size="5.6" font-weight="bold" fill="#00ffff" stroke="#00ffff" stroke-width="0.6" text-anchor="start" textLength="47.80" lengthAdjust="spacingAndGlyphs" >SCALE: 1/8"=1'-0"</text>
<text x="137.00" y="408.00" font-family="Liberation Sans, sans-serif" font-size="8.4" font-weight="normal" fill="#00ffff" stroke="#00ffff" stroke-width="0.35" text-anchor="start" textLength="25.00" lengthAdjust="spacingAndGlyphs" >LEGEND</text>
<line x1="135.00" y1="409.00" x2="164.00" y2="409.00" stroke="#00ffff" stroke-width="1.9"  shape-rendering="crispEdges"/>
<circle cx="147.50" cy="413.60" r="1.70" fill="none" stroke="#f47373" stroke-width="0.9"/>
<line x1="147.50" y1="415.00" x2="147.50" y2="418.00" stroke="#f47373" stroke-width="0.9"  shape-rendering="crispEdges"/>
<line x1="145.40" y1="418.20" x2="150.40" y2="418.20" stroke="#f47373" stroke-width="0.9"  shape-rendering="crispEdges"/>
<line x1="146.40" y1="412.60" x2="148.80" y2="415.00" stroke="#f47373" stroke-width="0.8" />
<line x1="155.50" y1="415.10" x2="158.70" y2="415.10" stroke="#00ffff" stroke-width="1"  shape-rendering="crispEdges"/>
<text x="161.70" y="416.80" font-family="Liberation Sans, sans-serif" font-size="5.43" font-weight="normal" fill="#00ffff" stroke="#00ffff" stroke-width="0.55" text-anchor="start" textLength="70.80" lengthAdjust="spacingAndGlyphs" >EXIT LIGHT, BATTERY BACK-UP</text>
<rect x="128.70" y="421.60" width="23.80" height="12.60" fill="none" stroke="#ffff00" stroke-width="1.5"  shape-rendering="crispEdges"/>
<rect x="139.60" y="427.30" width="2.40" height="1.30" fill="#ffff00" stroke="#ffff00" stroke-width="0"  shape-rendering="crispEdges"/>
<line x1="156.20" y1="426.80" x2="159.40" y2="426.80" stroke="#00ffff" stroke-width="1"  shape-rendering="crispEdges"/>
<text x="162.40" y="428.60" font-family="Liberation Sans, sans-serif" font-size="5.71" font-weight="normal" fill="#00ffff" stroke="#00ffff" stroke-width="0.55" text-anchor="start" textLength="63.30" lengthAdjust="spacingAndGlyphs" >2x4 FLUORESCENT FIXTURE</text>
<text x="161.80" y="433.00" font-family="Liberation Sans, sans-serif" font-size="4.86" font-weight="normal" fill="#00ffff" stroke="#00ffff" stroke-width="0.55" text-anchor="start" textLength="27.80" lengthAdjust="spacingAndGlyphs" >F(4-40)/L.V.</text>
<circle cx="146.60" cy="439.70" r="3.30" fill="none" stroke="#f47373" stroke-width="1.0"/>
<rect x="144.40" y="438.20" width="4.20" height="3.00" fill="#00ffff" stroke="#00ffff" stroke-width="0"  shape-rendering="crispEdges"/>
<line x1="156.20" y1="440.00" x2="159.40" y2="440.00" stroke="#00ffff" stroke-width="1"  shape-rendering="crispEdges"/>
<text x="162.40" y="441.80" font-family="Liberation Sans, sans-serif" font-size="5.71" font-weight="normal" fill="#00ffff" stroke="#00ffff" stroke-width="0.55" text-anchor="start" textLength="40.30" lengthAdjust="spacingAndGlyphs" >SMOKE DETECTOR</text>
<circle cx="146.60" cy="449.10" r="3.30" fill="none" stroke="#ffffff" stroke-width="1.3"/>
<rect x="145.20" y="447.80" width="2.80" height="2.60" fill="#00ffff" stroke="#00ffff" stroke-width="0"  shape-rendering="crispEdges"/>
<line x1="156.20" y1="449.40" x2="159.40" y2="449.40" stroke="#00ffff" stroke-width="1"  shape-rendering="crispEdges"/>
<text x="162.40" y="451.20" font-family="Liberation Sans, sans-serif" font-size="5.71" font-weight="normal" fill="#00ffff" stroke="#00ffff" stroke-width="0.55" text-anchor="start" textLength="36.30" lengthAdjust="spacingAndGlyphs" >HEAT DETECTOR</text>
<rect x="139" y="454" width="14" height="14" fill="#f47373" shape-rendering="crispEdges"/>
<rect x="141" y="456" width="10" height="10" fill="#000" shape-rendering="crispEdges"/>
<line x1="140.30" y1="456.30" x2="150.70" y2="466.70" stroke="#f47373" stroke-width="0.95" />
<line x1="140.30" y1="466.70" x2="150.70" y2="456.30" stroke="#f47373" stroke-width="0.95" />
<line x1="156.20" y1="460.20" x2="159.40" y2="460.20" stroke="#00ffff" stroke-width="1"  shape-rendering="crispEdges"/>
<text x="162.40" y="462.00" font-family="Liberation Sans, sans-serif" font-size="5.71" font-weight="normal" fill="#00ffff" stroke="#00ffff" stroke-width="0.55" text-anchor="start" textLength="27.20" lengthAdjust="spacingAndGlyphs" >SUPPLY AIR</text>
<rect x="139.80" y="470.80" width="12.40" height="12.40" fill="none" stroke="#f47373" stroke-width="1.7"  shape-rendering="crispEdges"/>
<text x="146.00" y="480.00" font-family="Liberation Sans, sans-serif" font-size="7.2" font-weight="normal" fill="#00ffff" stroke="#00ffff" stroke-width="0.35" text-anchor="middle" textLength="10.50" lengthAdjust="spacingAndGlyphs" >R/A</text>
<line x1="156.20" y1="476.20" x2="159.40" y2="476.20" stroke="#00ffff" stroke-width="1"  shape-rendering="crispEdges"/>
<text x="162.40" y="478.00" font-family="Liberation Sans, sans-serif" font-size="5.71" font-weight="normal" fill="#00ffff" stroke="#00ffff" stroke-width="0.55" text-anchor="start" textLength="27.20" lengthAdjust="spacingAndGlyphs" >RETURN AIR</text>
<rect x="139.00" y="486.20" width="14.00" height="13.40" fill="#00ff00" stroke="#00ff00" stroke-width="0"  shape-rendering="crispEdges"/>
<rect x="141.80" y="489.70" width="6.20" height="6.60" fill="none" stroke="#000" stroke-width="1.0"  shape-rendering="crispEdges"/>
<rect x="143.80" y="491.70" width="2.20" height="2.40" fill="none" stroke="#000" stroke-width="1.0"  shape-rendering="crispEdges"/>
<line x1="156.20" y1="492.40" x2="159.40" y2="492.40" stroke="#00ffff" stroke-width="1"  shape-rendering="crispEdges"/>
<text x="162.40" y="494.20" font-family="Liberation Sans, sans-serif" font-size="5.71" font-weight="normal" fill="#00ffff" stroke="#00ffff" stroke-width="0.55" text-anchor="start" textLength="41.10" lengthAdjust="spacingAndGlyphs" >KITCHEN EXHAUST</text>
<rect x="139.80" y="503.00" width="12.40" height="12.20" fill="none" stroke="#ffffff" stroke-width="1.7" stroke-dasharray="3.6 1.7" shape-rendering="crispEdges"/>
<text x="146.00" y="512.20" font-family="Liberation Sans, sans-serif" font-size="7.2" font-weight="normal" fill="#00ffff" stroke="#00ffff" stroke-width="0.35" text-anchor="middle" textLength="10.50" lengthAdjust="spacingAndGlyphs" >R/A</text>
<line x1="156.20" y1="508.40" x2="159.40" y2="508.40" stroke="#00ffff" stroke-width="1"  shape-rendering="crispEdges"/>
<text x="162.40" y="510.20" font-family="Liberation Sans, sans-serif" font-size="5.71" font-weight="normal" fill="#00ffff" stroke="#00ffff" stroke-width="0.55" text-anchor="start" textLength="27.20" lengthAdjust="spacingAndGlyphs" >RETURN AIR</text>
<polygon points="638.68,448.04 697.40,480.07 696.51,486.30 639.57,454.27" fill="none" stroke="#00ffff" stroke-width="1.7" />
<polyline points="638.68,449.82 696.87,481.85" fill="none" stroke="#00ffff" stroke-width="0.8" />
<line x1="643.38" y1="451.32" x2="643.74" y2="456.30" stroke="#00ffff" stroke-width="1.4" />
<line x1="650.43" y1="455.16" x2="650.78" y2="460.14" stroke="#00ffff" stroke-width="1.4" />
<line x1="656.30" y1="458.36" x2="656.65" y2="463.35" stroke="#00ffff" stroke-width="1.4" />
<line x1="675.09" y1="468.61" x2="675.44" y2="473.59" stroke="#00ffff" stroke-width="1.4" />
<line x1="680.96" y1="471.81" x2="681.32" y2="476.80" stroke="#00ffff" stroke-width="1.4" />
<line x1="686.83" y1="475.02" x2="687.19" y2="480.00" stroke="#00ffff" stroke-width="1.4" />
<line x1="692.70" y1="478.22" x2="693.06" y2="483.20" stroke="#00ffff" stroke-width="1.4" />
<polygon points="638.68,488.08 710.75,447.69 712.53,453.38 640.46,495.20" fill="none" stroke="#00ffff" stroke-width="1.7" />
<polyline points="639.22,489.86 711.10,449.47" fill="none" stroke="#00ffff" stroke-width="0.8" />
<polyline points="710.75,447.69 711.64,451.60 712.53,453.38" fill="none" stroke="#00ffff" stroke-width="0.8" />
<rect x="679.61" y="417.79" width="1.96" height="52.49" fill="#00ffff" stroke="#00ffff" stroke-width="0"  shape-rendering="crispEdges"/>
<path d="M675.16,415.66 Q675.16,410.68 677.83,410.68 H716.98" fill="none" stroke="#00ffff" stroke-width="1" />
<polyline points="716.98,425.80 683.17,425.80 687.26,432.03 685.48,426.69" fill="none" stroke="#00ffff" stroke-width="1" />
<polyline points="716.98,441.28 683.17,441.28 680.85,441.28" fill="none" stroke="#00ffff" stroke-width="1"  shape-rendering="crispEdges"/>
<polyline points="716.98,451.60 709.86,451.60 707.19,453.38" fill="none" stroke="#00ffff" stroke-width="1" />
<polyline points="716.98,462.28 700.96,462.28 694.73,478.29" fill="none" stroke="#00ffff" stroke-width="1" />
<line x1="643.13" y1="424.02" x2="668.04" y2="463.17" stroke="#0000ff" stroke-width="0.85" />
<line x1="686.73" y1="427.58" x2="667.15" y2="462.28" stroke="#0000ff" stroke-width="0.85" />
<line x1="701.85" y1="445.37" x2="685.84" y2="472.95" stroke="#0000ff" stroke-width="0.85" />
<line x1="634.23" y1="460.50" x2="691.17" y2="463.17" stroke="#0000ff" stroke-width="0.85" />
<line x1="636.01" y1="469.40" x2="682.28" y2="472.06" stroke="#0000ff" stroke-width="0.85" />
<line x1="675.16" y1="413.35" x2="675.16" y2="476.51" stroke="#0000ff" stroke-width="0.85"  shape-rendering="crispEdges"/>
<line x1="655.59" y1="462.28" x2="678.72" y2="458.72" stroke="#0000ff" stroke-width="0.85" />
<line x1="664.48" y1="471.17" x2="687.62" y2="464.06" stroke="#0000ff" stroke-width="0.85" />
<path d="M645.27,426.69 Q636.90,432.92 636.90,445.37" fill="none" stroke="#00ff00" stroke-width="1" />
<rect x="634.23" y="433.81" width="9.79" height="2.85" fill="#00ff00" stroke="#00ff00" stroke-width="0"  shape-rendering="crispEdges"/>
<polyline points="635.12,444.48 636.90,445.91 638.68,446.62" fill="none" stroke="#00ff00" stroke-width="1" />
<line x1="666.62" y1="466.73" x2="666.62" y2="488.43" stroke="#00ff00" stroke-width="1"  shape-rendering="crispEdges"/>
<line x1="675.16" y1="476.51" x2="675.16" y2="494.66" stroke="#00ff00" stroke-width="1"  shape-rendering="crispEdges"/>
<polyline points="666.62,488.43 670.71,489.86 675.16,492.53" fill="none" stroke="#00ff00" stroke-width="1" />
<polygon points="673.74,492.88 675.52,495.37 677.30,492.88" fill="#00ff00" stroke="#00ff00" stroke-width="1" />
<rect x="718.75" y="409.61" width="47.15" height="4.40" fill="#00ffff" stroke="#00ffff" stroke-width="0" opacity="0.8" shape-rendering="crispEdges"/>
<text x="718.75" y="413.91" font-family="Liberation Sans, sans-serif" font-size="7.06" font-weight="bold" fill="#00ffff" stroke="#00ffff" stroke-width="1.15" text-anchor="start" textLength="47.15" lengthAdjust="spacingAndGlyphs" >12 GA. HANGER WIRES AT</text>
<rect x="718.75" y="415.13" width="29.23" height="4.40" fill="#00ffff" stroke="#00ffff" stroke-width="0" opacity="0.8" shape-rendering="crispEdges"/>
<text x="718.75" y="419.43" font-family="Liberation Sans, sans-serif" font-size="7.06" font-weight="bold" fill="#00ffff" stroke="#00ffff" stroke-width="1.15" text-anchor="start" textLength="29.23" lengthAdjust="spacingAndGlyphs" >4'-0" O.C. EA. WAY</text>
<rect x="718.75" y="425.33" width="46.33" height="3.36" fill="#00ffff" stroke="#00ffff" stroke-width="0" opacity="0.8" shape-rendering="crispEdges"/>
<text x="718.75" y="428.59" font-family="Liberation Sans, sans-serif" font-size="5.35" font-weight="bold" fill="#00ffff" stroke="#00ffff" stroke-width="1.15" text-anchor="start" textLength="46.33" lengthAdjust="spacingAndGlyphs" >12 GA. SPLAY WIRES 4 WAYS</text>
<rect x="718.75" y="429.51" width="49.82" height="3.36" fill="#00ffff" stroke="#00ffff" stroke-width="0" opacity="0.8" shape-rendering="crispEdges"/>
<text x="718.75" y="432.77" font-family="Liberation Sans, sans-serif" font-size="5.35" font-weight="bold" fill="#00ffff" stroke="#00ffff" stroke-width="1.15" text-anchor="start" textLength="49.82" lengthAdjust="spacingAndGlyphs" >AT 12'-0" O.C. EACH WAY</text>
<rect x="718.75" y="439.51" width="35.59" height="3.15" fill="#00ffff" stroke="#00ffff" stroke-width="0" opacity="0.8" shape-rendering="crispEdges"/>
<text x="718.75" y="442.56" font-family="Liberation Sans, sans-serif" font-size="5.01" font-weight="bold" fill="#00ffff" stroke="#00ffff" stroke-width="1.15" text-anchor="start" textLength="35.59" lengthAdjust="spacingAndGlyphs" >COMPRESSION</text>
<rect x="718.75" y="443.42" width="25.62" height="3.15" fill="#00ffff" stroke="#00ffff" stroke-width="0" opacity="0.8" shape-rendering="crispEdges"/>
<text x="718.75" y="446.48" font-family="Liberation Sans, sans-serif" font-size="5.01" font-weight="bold" fill="#00ffff" stroke="#00ffff" stroke-width="1.15" text-anchor="start" textLength="25.62" lengthAdjust="spacingAndGlyphs" >STRUT POST</text>
<rect x="718.75" y="450.36" width="16.90" height="1.42" fill="#00ffff" stroke="#00ffff" stroke-width="0"  shape-rendering="crispEdges"/>
<rect x="718.75" y="453.31" width="46.98" height="2.88" fill="#00ffff" stroke="#00ffff" stroke-width="0" opacity="0.8" shape-rendering="crispEdges"/>
<text x="718.75" y="456.08" font-family="Liberation Sans, sans-serif" font-size="4.56" font-weight="bold" fill="#00ffff" stroke="#00ffff" stroke-width="1.15" text-anchor="start" textLength="46.98" lengthAdjust="spacingAndGlyphs" >MAIN RUNNER HEAVY DUTY</text>
<rect x="718.75" y="456.87" width="53.38" height="2.88" fill="#00ffff" stroke="#00ffff" stroke-width="0" opacity="0.8" shape-rendering="crispEdges"/>
<text x="718.75" y="459.64" font-family="Liberation Sans, sans-serif" font-size="4.56" font-weight="bold" fill="#00ffff" stroke="#00ffff" stroke-width="1.15" text-anchor="start" textLength="53.38" lengthAdjust="spacingAndGlyphs" >GRID SYSTEM AS SPECIFIED</text>
<rect x="718.75" y="461.39" width="15.12" height="2.31" fill="#00ffff" stroke="#00ffff" stroke-width="0"  shape-rendering="crispEdges"/>
<line x1="718.75" y1="466.90" x2="726.76" y2="466.90" stroke="#00ffff" stroke-width="1"  shape-rendering="crispEdges"/>
<rect x="720.53" y="469.22" width="38.26" height="4.40" fill="#00ffff" stroke="#00ffff" stroke-width="0" opacity="0.8" shape-rendering="crispEdges"/>
<text x="720.53" y="473.52" font-family="Liberation Sans, sans-serif" font-size="7.06" font-weight="bold" fill="#00ffff" stroke="#00ffff" stroke-width="1.15" text-anchor="start" textLength="38.26" lengthAdjust="spacingAndGlyphs" >*CROSS TEES AT 2'-0"</text>
<line x1="758.79" y1="469.75" x2="774.80" y2="469.75" stroke="#00ffff" stroke-width="1"  shape-rendering="crispEdges"/>
<rect x="720.53" y="476.93" width="37.15" height="3.36" fill="#00ffff" stroke="#00ffff" stroke-width="0" opacity="0.8" shape-rendering="crispEdges"/>
<text x="720.53" y="480.19" font-family="Liberation Sans, sans-serif" font-size="5.35" font-weight="bold" fill="#00ffff" stroke="#00ffff" stroke-width="1.15" text-anchor="start" textLength="37.15" lengthAdjust="spacingAndGlyphs" >*PROVIDE SEISMIC</text>
<rect x="720.53" y="481.11" width="51.60" height="3.36" fill="#00ffff" stroke="#00ffff" stroke-width="0" opacity="0.8" shape-rendering="crispEdges"/>
<text x="720.53" y="484.38" font-family="Liberation Sans, sans-serif" font-size="5.35" font-weight="bold" fill="#00ffff" stroke="#00ffff" stroke-width="1.15" text-anchor="start" textLength="51.60" lengthAdjust="spacingAndGlyphs" >BRACING PER CODE REQ.</text>
<rect x="720.53" y="489.29" width="52.49" height="3.01" fill="#00ffff" stroke="#00ffff" stroke-width="0" opacity="0.8" shape-rendering="crispEdges"/>
<text x="720.53" y="492.20" font-family="Liberation Sans, sans-serif" font-size="4.78" font-weight="bold" fill="#00ffff" stroke="#00ffff" stroke-width="1.15" text-anchor="start" textLength="52.49" lengthAdjust="spacingAndGlyphs" >*SUSPENSION SYSTEM BY</text>
<rect x="720.53" y="493.03" width="51.44" height="3.01" fill="#00ffff" stroke="#00ffff" stroke-width="0" opacity="0.8" shape-rendering="crispEdges"/>
<text x="720.53" y="495.94" font-family="Liberation Sans, sans-serif" font-size="4.78" font-weight="bold" fill="#00ffff" stroke="#00ffff" stroke-width="1.15" text-anchor="start" textLength="51.44" lengthAdjust="spacingAndGlyphs" >CEILING MANUFACTURER</text>
<rect x="785.87" y="408.84" width="40.26" height="23.18" fill="#00ffff" stroke="#00ffff" stroke-width="0"  shape-rendering="crispEdges"/>
<rect x="787.01" y="409.98" width="0.97" height="2.85" fill="#000" stroke="#000" stroke-width="0" shape-rendering="auto"/>
<rect x="791.11" y="409.98" width="1.14" height="1.14" fill="#000" stroke="#000" stroke-width="0" shape-rendering="auto"/>
<rect x="792.82" y="411.69" width="1.42" height="1.31" fill="#000" stroke="#000" stroke-width="0" shape-rendering="auto"/>
<rect x="802.96" y="409.98" width="0.97" height="2.85" fill="#000" stroke="#000" stroke-width="0" shape-rendering="auto"/>
<rect x="811.04" y="411.12" width="1.14" height="1.71" fill="#000" stroke="#000" stroke-width="0" shape-rendering="auto"/>
<rect x="812.18" y="409.98" width="1.03" height="1.14" fill="#000" stroke="#000" stroke-width="0" shape-rendering="auto"/>
<rect x="824.03" y="409.98" width="0.97" height="2.85" fill="#000" stroke="#000" stroke-width="0" shape-rendering="auto"/>
<rect x="787.01" y="414.36" width="17.77" height="3.47" fill="#000" stroke="#000" stroke-width="0" shape-rendering="auto"/>
<rect x="806.20" y="414.36" width="18.79" height="3.47" fill="#000" stroke="#000" stroke-width="0" shape-rendering="auto"/>
<rect x="790.83" y="415.22" width="9.40" height="1.65" fill="#00ffff" stroke="#00ffff" stroke-width="0" shape-rendering="auto"/>
<rect x="808.77" y="415.22" width="11.10" height="1.65" fill="#00ffff" stroke="#00ffff" stroke-width="0" shape-rendering="auto"/>
<rect x="787.01" y="418.92" width="0.97" height="2.85" fill="#000" stroke="#000" stroke-width="0" shape-rendering="auto"/>
<rect x="789.97" y="418.92" width="1.14" height="1.88" fill="#000" stroke="#000" stroke-width="0" shape-rendering="auto"/>
<rect x="791.11" y="418.92" width="0.85" height="1.03" fill="#000" stroke="#000" stroke-width="0" shape-rendering="auto"/>
<rect x="795.38" y="419.26" width="1.54" height="2.11" fill="#000" stroke="#000" stroke-width="0" shape-rendering="auto"/>
<rect x="796.92" y="419.95" width="2.16" height="0.68" fill="#000" stroke="#000" stroke-width="0" shape-rendering="auto"/>
<rect x="799.08" y="418.92" width="1.14" height="0.74" fill="#000" stroke="#000" stroke-width="0" shape-rendering="auto"/>
<rect x="801.36" y="418.92" width="1.14" height="1.88" fill="#000" stroke="#000" stroke-width="0" shape-rendering="auto"/>
<rect x="803.64" y="418.92" width="1.14" height="2.85" fill="#000" stroke="#000" stroke-width="0" shape-rendering="auto"/>
<rect x="806.20" y="418.92" width="6.55" height="3.30" fill="#000" stroke="#000" stroke-width="0" shape-rendering="auto"/>
<rect x="818.45" y="418.92" width="6.55" height="3.30" fill="#000" stroke="#000" stroke-width="0" shape-rendering="auto"/>
<rect x="813.89" y="418.92" width="1.14" height="1.59" fill="#000" stroke="#000" stroke-width="0" shape-rendering="auto"/>
<rect x="815.03" y="420.80" width="2.28" height="0.97" fill="#000" stroke="#000" stroke-width="0" shape-rendering="auto"/>
<rect x="787.01" y="423.36" width="17.77" height="3.42" fill="#000" stroke="#000" stroke-width="0" shape-rendering="auto"/>
<rect x="806.20" y="423.36" width="18.79" height="3.42" fill="#000" stroke="#000" stroke-width="0" shape-rendering="auto"/>
<rect x="792.25" y="424.22" width="6.55" height="1.71" fill="#00ffff" stroke="#00ffff" stroke-width="0" shape-rendering="auto"/>
<rect x="794.24" y="423.93" width="2.85" height="1.03" fill="#000" stroke="#000" stroke-width="0" shape-rendering="auto"/>
<rect x="813.04" y="424.05" width="3.99" height="1.88" fill="#00ffff" stroke="#00ffff" stroke-width="0" shape-rendering="auto"/>
<rect x="814.18" y="424.79" width="1.71" height="1.31" fill="#000" stroke="#000" stroke-width="0" shape-rendering="auto"/>
<rect x="787.01" y="427.92" width="4.95" height="2.96" fill="#000" stroke="#000" stroke-width="0" shape-rendering="auto"/>
<rect x="798.51" y="427.92" width="6.26" height="2.96" fill="#000" stroke="#000" stroke-width="0" shape-rendering="auto"/>
<rect x="793.96" y="428.49" width="2.85" height="0.85" fill="#000" stroke="#000" stroke-width="0" shape-rendering="auto"/>
<rect x="793.96" y="429.91" width="2.28" height="0.85" fill="#000" stroke="#000" stroke-width="0" shape-rendering="auto"/>
<rect x="806.20" y="427.92" width="4.84" height="2.96" fill="#000" stroke="#000" stroke-width="0" shape-rendering="auto"/>
<rect x="815.03" y="427.92" width="1.71" height="2.96" fill="#000" stroke="#000" stroke-width="0" shape-rendering="auto"/>
<rect x="820.15" y="427.92" width="4.84" height="2.96" fill="#000" stroke="#000" stroke-width="0" shape-rendering="auto"/>
<rect x="811.61" y="428.60" width="1.99" height="0.74" fill="#000" stroke="#000" stroke-width="0" shape-rendering="auto"/>
<rect x="811.61" y="429.91" width="1.71" height="0.74" fill="#000" stroke="#000" stroke-width="0" shape-rendering="auto"/>
<rect x="817.59" y="429.06" width="1.42" height="1.82" fill="#000" stroke="#000" stroke-width="0" shape-rendering="auto"/>
<text x="686.50" y="516.90" font-family="Liberation Sans, sans-serif" font-size="7.6" font-weight="normal" fill="#00ffff" stroke="#00ffff" stroke-width="0.35" text-anchor="start" textLength="105.50" lengthAdjust="spacingAndGlyphs" >SUSPENDED CEILING SUPPORT</text>
<line x1="685.50" y1="518.00" x2="793.00" y2="518.00" stroke="#00ffff" stroke-width="1.1"  shape-rendering="crispEdges"/>
<text x="733.00" y="522.40" font-family="Liberation Sans, sans-serif" font-size="4.4" font-weight="bold" fill="#00ffff" stroke="#00ffff" stroke-width="0.35" text-anchor="start" textLength="13.30" lengthAdjust="spacingAndGlyphs" >N.T.S.</text>
</svg></body></html>
